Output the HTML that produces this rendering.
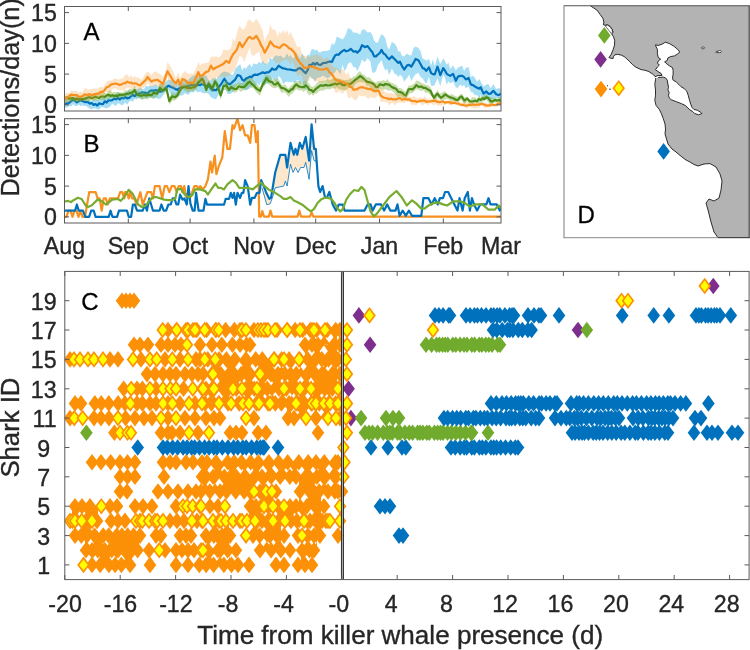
<!DOCTYPE html>
<html><head><meta charset="utf-8"><style>
html,body{margin:0;padding:0;background:#fff;}
body{width:750px;height:650px;overflow:hidden;}
svg{display:block;filter:blur(0.4px);}
text{font-family:"Liberation Sans", sans-serif;}
.tk{font-size:23.2px;fill:#262626;stroke:#262626;stroke-width:0.35px;}
.al{font-size:25.3px;fill:#262626;stroke:#262626;stroke-width:0.35px;}
.pl{font-size:24px;fill:#000;stroke:#000;stroke-width:0.3px;}
</style></head><body>
<svg width="750" height="650" viewBox="0 0 750 650">
<rect width="750" height="650" fill="#fff"/>
<clipPath id="cA"><rect x="64.5" y="6.5" width="436.5" height="104.5"/></clipPath>
<clipPath id="cB"><rect x="64.5" y="118.7" width="436.5" height="104.3"/></clipPath>
<clipPath id="cC"><rect x="64.8" y="271.4" width="684.3" height="308.2"/></clipPath>
<clipPath id="cD"><rect x="564" y="5.8" width="185.2" height="231.9"/></clipPath>
<g clip-path="url(#cA)">
<polygon points="64.7,97.9 66.9,98.5 69.0,96.5 71.2,97.4 73.1,96.8 75.0,98.2 76.8,97.5 78.7,96.6 80.5,97.5 82.4,97.1 84.2,98.3 86.1,97.1 88.0,98.3 89.8,100.5 91.7,101.1 93.6,99.4 95.5,98.5 97.3,100.6 99.2,99.6 101.1,98.0 102.9,97.9 104.8,97.7 106.7,98.7 108.5,94.4 110.4,95.0 112.2,95.4 114.1,95.3 116.0,94.2 117.9,91.7 119.8,94.0 121.6,93.6 123.5,94.3 125.3,92.3 127.2,92.3 129.1,89.8 130.9,91.5 132.8,90.5 134.7,92.3 136.5,88.7 138.4,88.7 140.3,87.2 142.2,89.2 144.0,89.0 145.9,85.9 147.8,86.4 149.6,85.7 151.5,86.2 153.3,85.5 155.5,84.4 157.8,86.7 160.0,83.7 162.8,85.7 165.6,82.0 168.4,79.4 171.2,80.6 173.1,78.9 174.9,82.9 177.7,83.6 179.6,81.4 182.4,81.9 185.2,80.1 188.0,80.3 190.8,77.2 193.6,75.5 195.4,75.2 197.3,74.6 200.1,77.3 202.0,77.1 203.9,75.3 206.7,76.0 208.6,80.7 210.4,80.6 212.3,78.3 214.2,78.8 216.0,79.5 218.8,76.2 221.6,72.7 224.4,71.6 227.2,71.9 230.0,73.6 232.9,75.2 235.2,69.0 237.6,66.2 240.4,64.2 242.2,70.8 244.1,67.3 246.0,68.8 247.9,66.1 249.8,63.8 251.6,67.5 253.5,63.3 255.4,64.3 257.2,64.3 259.1,61.6 261.0,63.5 262.8,60.4 264.7,63.5 266.5,64.0 268.4,62.2 270.2,57.8 272.1,59.4 274.0,56.9 275.9,55.3 278.7,56.2 281.0,55.5 283.3,58.3 285.2,57.1 287.0,53.3 288.9,56.9 290.8,55.1 292.6,58.6 294.5,57.2 296.4,52.5 298.3,56.1 300.1,58.6 302.0,53.2 303.9,56.0 305.7,59.7 307.6,54.8 309.5,55.2 311.4,49.5 313.2,48.9 315.0,50.4 316.9,49.4 318.8,52.3 320.7,52.3 323.1,51.1 325.6,51.1 327.8,50.5 329.9,49.9 332.1,42.4 333.1,45.0 335.0,43.1 336.8,36.4 338.6,37.4 340.5,38.2 342.4,39.4 344.3,37.5 346.1,33.7 348.0,28.1 350.8,29.2 353.6,32.7 355.5,32.4 357.3,33.0 360.1,34.8 362.0,29.7 364.8,29.6 367.6,32.5 370.4,31.9 372.2,34.8 374.1,40.5 376.0,42.8 377.9,42.5 379.8,37.4 381.6,34.3 383.5,35.6 385.3,38.3 387.2,46.2 389.1,49.7 391.9,41.7 394.7,43.7 396.5,46.3 398.4,51.7 400.0,50.9 402.1,56.3 404.2,56.2 407.1,53.4 409.2,55.2 411.3,55.5 413.5,47.9 415.6,46.4 418.4,48.1 420.5,51.1 422.6,58.5 424.4,59.0 426.2,60.8 429.0,58.9 431.1,65.7 432.9,59.3 434.7,66.4 437.5,56.6 440.3,64.1 443.2,58.5 444.9,60.8 446.7,64.7 448.4,62.4 450.2,68.9 453.1,65.4 455.9,70.4 458.0,67.4 460.1,66.6 462.3,65.8 464.1,70.9 465.8,68.0 468.6,67.0 470.8,77.2 472.9,75.4 475.0,78.0 477.1,81.8 479.2,78.9 480.7,81.4 483.5,86.6 486.3,84.4 488.5,83.9 490.6,88.5 493.4,83.9 496.2,89.2 498.7,87.9 501.2,89.0 501.2,101.0 498.7,98.1 496.2,98.5 493.4,98.0 490.6,100.7 488.5,99.5 486.3,99.6 483.5,101.0 480.7,94.7 479.2,98.0 477.1,95.0 475.0,95.5 472.9,92.6 470.8,91.8 468.6,86.5 465.8,88.3 464.1,84.7 462.3,86.3 460.1,84.4 458.0,87.8 455.9,87.6 453.1,81.6 450.2,83.4 448.4,81.3 446.7,84.8 444.9,77.8 443.2,74.5 440.3,86.3 437.5,78.2 434.7,84.9 432.9,86.0 431.1,85.8 429.0,76.9 426.2,83.9 424.4,81.3 422.6,78.2 420.5,77.0 418.4,72.7 415.6,74.2 413.5,77.1 411.3,81.0 409.2,74.6 407.1,78.0 404.2,81.7 402.1,76.6 400.0,74.7 398.4,77.1 396.5,74.4 394.7,73.9 391.9,68.6 389.1,75.1 387.2,68.7 385.3,70.6 383.5,66.6 381.6,59.9 379.8,62.4 377.9,65.1 376.0,71.0 374.1,72.7 372.2,72.4 370.4,61.5 367.6,58.0 364.8,62.2 362.0,59.5 360.1,65.0 357.3,71.2 355.5,67.1 353.6,67.4 350.8,62.1 348.0,63.8 346.1,68.9 344.3,70.4 342.4,64.4 340.5,74.6 338.6,71.5 336.8,69.1 335.0,72.7 333.1,73.5 332.1,75.1 329.9,76.4 327.8,78.6 325.6,77.3 323.1,75.4 320.7,76.9 318.8,77.6 316.9,78.3 315.0,81.6 313.2,78.8 311.4,78.6 309.5,75.7 307.6,81.6 305.7,90.9 303.9,86.9 302.0,81.4 300.1,84.3 298.3,79.7 296.4,80.8 294.5,83.0 292.6,81.5 290.8,82.4 288.9,81.9 287.0,81.4 285.2,82.0 283.3,84.4 281.0,78.5 278.7,75.9 275.9,83.0 274.0,78.6 272.1,78.7 270.2,82.7 268.4,83.3 266.5,83.5 264.7,84.9 262.8,85.6 261.0,81.8 259.1,85.8 257.2,82.8 255.4,88.1 253.5,84.5 251.6,86.5 249.8,88.5 247.9,89.2 246.0,90.3 244.1,90.2 242.2,88.1 240.4,85.6 237.6,84.0 235.2,87.5 232.9,92.2 230.0,94.1 227.2,93.8 224.4,85.9 221.6,95.5 218.8,94.0 216.0,99.4 214.2,98.8 212.3,97.9 210.4,96.6 208.6,94.0 206.7,92.6 203.9,93.5 202.0,92.5 200.1,91.4 197.3,92.5 195.4,89.9 193.6,92.4 190.8,92.0 188.0,94.9 185.2,93.0 182.4,95.4 179.6,95.4 177.7,97.0 174.9,96.3 173.1,95.8 171.2,95.3 168.4,89.7 165.6,91.6 162.8,95.7 160.0,98.9 157.8,98.8 155.5,97.2 153.3,99.2 151.5,96.5 149.6,98.1 147.8,97.7 145.9,99.1 144.0,97.4 142.2,99.7 140.3,97.7 138.4,98.3 136.5,99.6 134.7,98.4 132.8,102.0 130.9,100.6 129.1,101.4 127.2,104.8 125.3,102.5 123.5,104.5 121.6,105.3 119.8,104.0 117.9,102.9 116.0,106.1 114.1,105.0 112.2,103.6 110.4,106.3 108.5,107.6 106.7,108.3 104.8,108.0 102.9,106.9 101.1,107.3 99.2,109.4 97.3,109.3 95.5,108.4 93.6,108.3 91.7,109.4 89.8,108.5 88.0,107.6 86.1,105.7 84.2,105.9 82.4,105.2 80.5,106.0 78.7,104.6 76.8,105.9 75.0,106.1 73.1,104.1 71.2,106.4 69.0,106.0 66.9,107.5 64.7,107.7" fill="rgb(77,190,238)" fill-opacity="0.5"/>
<polyline points="64.7,104.0 66.9,103.4 69.0,103.0 71.2,101.2 73.1,99.9 75.0,100.6 76.8,102.4 78.7,101.2 80.5,100.3 82.4,101.0 84.2,101.8 86.1,102.1 88.0,102.2 89.8,103.6 91.7,103.0 93.6,104.9 95.5,104.0 97.3,105.6 99.2,103.3 101.1,104.0 102.9,104.1 104.8,101.3 106.7,102.5 108.5,100.3 110.4,100.5 112.2,100.2 114.1,98.6 116.0,99.3 117.9,97.9 119.8,99.5 121.6,97.8 123.5,98.4 125.3,97.1 127.2,98.3 129.1,97.9 130.9,96.5 132.8,94.6 134.7,96.3 136.5,94.5 138.4,93.7 140.3,93.2 142.2,92.2 144.0,92.7 145.9,92.8 147.8,93.6 149.6,91.3 151.5,90.4 153.3,90.9 155.5,90.2 157.8,90.5 160.0,91.7 162.8,90.8 165.6,88.0 168.4,85.7 171.2,87.1 173.1,87.6 174.9,88.9 177.7,89.9 179.6,88.0 182.4,87.1 185.2,86.6 188.0,86.1 190.8,85.2 193.6,84.7 195.4,85.8 197.3,84.7 200.1,85.2 202.0,83.9 203.9,84.7 206.7,86.1 208.6,86.2 210.4,88.0 212.3,90.1 214.2,89.9 216.0,90.3 218.8,87.1 221.6,83.3 224.4,78.7 227.2,83.3 230.0,84.3 232.9,81.6 235.2,79.6 237.6,75.1 240.4,76.0 242.2,79.6 244.1,80.7 246.0,78.6 247.9,77.9 249.8,76.6 251.6,77.2 253.5,75.1 255.4,74.7 257.2,75.0 259.1,74.1 261.0,73.3 262.8,72.3 264.7,73.2 266.5,72.3 268.4,72.3 270.2,71.0 272.1,68.5 274.0,69.7 275.9,69.5 278.7,65.7 281.0,67.3 283.3,68.5 285.2,68.7 287.0,69.3 288.9,69.5 290.8,69.6 292.6,70.2 294.5,70.4 296.4,70.3 298.3,68.5 300.1,68.2 302.0,69.5 303.9,71.6 305.7,73.2 307.6,70.1 309.5,64.8 311.4,65.2 313.2,63.0 315.0,64.6 316.9,62.9 318.8,64.7 320.7,64.8 323.1,63.0 325.6,62.9 327.8,62.0 329.9,61.5 332.1,62.0 333.1,59.2 335.0,55.7 336.8,54.5 338.6,54.8 340.5,52.7 342.4,51.1 344.3,49.9 346.1,51.3 348.0,50.8 350.8,48.9 353.6,51.7 355.5,51.2 357.3,52.7 360.1,49.9 362.0,45.2 364.8,47.1 367.6,46.1 370.4,49.9 372.2,51.9 374.1,56.4 376.0,56.4 377.9,54.5 379.8,53.0 381.6,49.9 383.5,53.5 385.3,54.5 387.2,57.3 389.1,59.2 391.9,56.4 394.7,59.2 396.5,61.1 398.4,62.9 400.0,61.7 402.1,66.3 404.2,69.5 407.1,65.3 409.2,64.9 411.3,66.7 413.5,62.9 415.6,58.9 418.4,60.3 420.5,64.0 422.6,68.1 424.4,68.6 426.2,70.9 429.0,67.4 431.1,73.1 432.9,74.1 434.7,74.5 437.5,66.7 440.3,75.2 443.2,68.1 444.9,70.5 446.7,73.8 448.4,74.9 450.2,75.9 453.1,73.8 455.9,80.8 458.0,76.6 460.1,75.9 462.3,75.9 464.1,77.2 465.8,79.4 468.6,78.0 470.8,84.4 472.9,85.1 475.0,86.5 477.1,87.8 479.2,88.6 480.7,87.2 483.5,93.6 486.3,91.5 488.5,93.8 490.6,93.6 493.4,90.8 496.2,94.3 498.7,95.1 501.2,93.6" fill="none" stroke="#0072BD" stroke-width="2.2" stroke-linejoin="round"/>
<polygon points="64.7,95.8 66.9,95.9 69.0,95.9 71.2,94.1 73.1,96.9 75.0,95.5 76.8,96.1 78.7,97.3 80.5,95.4 82.4,96.1 84.2,95.5 86.1,95.8 88.0,95.3 89.8,94.8 91.7,94.1 93.6,93.1 95.5,93.6 97.3,92.4 99.2,94.3 101.0,92.9 102.9,92.7 104.8,92.7 106.6,93.3 108.5,90.9 110.4,90.1 112.2,92.3 114.1,91.9 116.0,92.3 117.9,91.8 119.8,92.4 121.6,92.3 123.5,92.6 125.3,90.1 127.2,91.0 129.1,89.1 130.9,89.1 132.8,89.0 134.7,85.3 136.5,90.3 138.4,90.6 140.2,91.8 142.1,91.6 144.0,91.7 145.8,92.7 147.7,91.3 149.6,90.0 151.5,90.2 153.3,90.2 155.2,90.5 157.1,90.5 160.0,84.3 161.8,84.9 163.7,86.4 166.5,85.2 169.3,97.6 172.1,92.3 174.9,93.5 177.3,91.4 179.6,88.1 182.4,83.5 185.2,84.1 188.0,83.4 190.8,84.2 192.7,83.0 194.5,82.7 196.4,80.4 198.3,79.2 200.2,75.9 202.0,75.3 203.9,78.0 206.2,86.7 208.6,79.2 210.4,83.5 212.3,84.3 215.1,77.0 217.0,80.7 218.8,85.3 220.7,92.1 223.5,82.5 226.3,80.3 229.1,86.7 231.1,82.6 232.9,85.5 234.8,84.0 236.7,84.0 238.5,82.1 240.4,83.0 242.3,83.3 244.2,82.2 246.0,80.3 247.8,77.8 249.7,77.6 251.6,78.1 253.5,80.3 255.3,82.4 257.2,84.4 260.0,87.2 262.8,80.2 264.6,76.4 266.5,74.6 268.4,75.6 270.3,75.8 272.1,79.8 274.0,78.3 275.9,80.1 277.7,77.7 279.6,81.0 281.5,84.2 283.4,85.5 285.2,84.2 287.0,87.3 288.9,88.2 290.8,85.6 292.7,84.7 294.5,81.5 296.4,81.2 298.3,80.9 300.1,81.5 302.0,82.8 303.9,80.9 305.7,80.5 307.6,82.6 309.5,83.9 311.4,86.5 313.2,86.9 315.0,85.6 316.9,83.0 318.8,81.2 320.7,81.2 323.0,81.1 325.2,80.2 327.5,79.1 329.4,80.2 331.2,79.4 333.1,78.4 335.0,77.8 336.8,78.0 338.7,78.8 340.6,78.9 342.4,79.5 344.3,80.2 346.2,80.0 348.0,79.8 349.9,79.1 351.8,77.7 353.6,76.5 355.5,76.1 357.8,72.7 360.1,71.0 362.5,74.3 364.8,75.2 366.7,77.6 368.5,77.1 370.4,77.9 372.3,80.5 374.1,81.6 376.0,82.9 377.9,80.7 379.7,81.2 381.6,80.9 383.5,80.0 385.4,81.3 387.2,78.9 389.0,81.4 390.9,82.7 392.8,83.3 394.7,84.5 396.5,85.0 398.4,87.9 400.2,88.1 402.1,88.9 404.0,90.9 405.9,91.8 408.5,85.8 410.6,85.4 412.7,84.6 414.5,83.6 416.3,80.6 418.8,81.1 421.2,83.1 423.4,83.8 425.5,84.7 427.9,85.3 430.4,87.1 432.2,90.9 434.0,95.2 435.8,92.4 437.5,89.7 439.2,93.5 441.0,93.6 443.1,91.6 445.3,91.5 447.4,93.8 449.5,95.0 451.6,93.9 453.8,95.2 455.9,96.3 458.0,96.8 459.8,94.5 461.6,93.4 464.4,97.6 467.2,96.6 470.0,99.9 472.5,96.9 475.0,97.4 476.9,98.7 478.8,96.5 480.7,96.7 482.6,96.1 484.4,95.2 486.3,94.0 488.5,96.3 490.6,97.4 492.7,97.6 494.8,98.1 496.9,98.9 499.1,97.1 501.2,98.1 501.2,103.3 499.1,104.3 496.9,101.9 494.8,102.7 492.7,103.5 490.6,104.4 488.5,102.2 486.3,100.1 484.4,99.7 482.6,102.9 480.7,102.9 478.8,104.1 476.9,102.5 475.0,102.5 472.5,104.8 470.0,105.5 467.2,101.3 464.4,104.6 461.6,99.9 459.8,100.6 458.0,102.1 455.9,102.1 453.8,101.0 451.6,102.3 449.5,100.1 447.4,99.1 445.3,99.4 443.1,99.8 441.0,101.0 439.2,98.8 437.5,97.3 435.8,99.4 434.0,101.9 432.2,97.1 430.4,95.3 427.9,92.8 425.5,92.9 423.4,90.3 421.2,91.0 418.8,90.0 416.3,89.0 414.5,91.1 412.7,93.0 410.6,93.0 408.5,94.9 405.9,99.7 404.0,99.3 402.1,97.6 400.2,96.1 398.4,97.6 396.5,95.6 394.7,93.1 392.8,91.6 390.9,90.2 389.0,90.7 387.2,90.0 385.4,89.3 383.5,89.5 381.6,89.7 379.7,88.7 377.9,90.8 376.0,93.3 374.1,90.4 372.3,90.1 370.4,87.5 368.5,85.6 366.7,86.3 364.8,82.3 362.5,82.5 360.1,81.7 357.8,82.4 355.5,83.7 353.6,87.3 351.8,87.8 349.9,87.5 348.0,88.4 346.2,89.8 344.3,90.5 342.4,89.7 340.6,89.6 338.7,89.0 336.8,87.2 335.0,89.0 333.1,87.9 331.2,88.7 329.4,89.4 327.5,89.0 325.2,89.6 323.0,90.7 320.7,90.5 318.8,90.9 316.9,93.7 315.0,93.6 313.2,96.0 311.4,93.8 309.5,95.6 307.6,93.4 305.7,88.8 303.9,92.3 302.0,90.3 300.1,90.6 298.3,90.2 296.4,88.9 294.5,90.7 292.7,93.3 290.8,94.2 288.9,96.9 287.0,94.8 285.2,92.5 283.4,92.2 281.5,93.0 279.6,89.6 277.7,87.1 275.9,88.2 274.0,88.1 272.1,87.5 270.3,85.8 268.4,84.3 266.5,82.4 264.6,86.0 262.8,87.6 260.0,95.8 257.2,93.3 255.3,91.0 253.5,88.2 251.6,88.0 249.7,85.9 247.8,89.1 246.0,89.8 244.2,89.6 242.3,91.1 240.4,91.7 238.5,89.4 236.7,92.1 234.8,92.8 232.9,91.8 231.1,90.2 229.1,92.6 226.3,90.2 223.5,89.4 220.7,99.7 218.8,93.7 217.0,89.1 215.1,85.5 212.3,92.4 210.4,90.7 208.6,87.3 206.2,93.4 203.9,85.1 202.0,84.3 200.2,83.5 198.3,85.8 196.4,89.5 194.5,90.2 192.7,91.6 190.8,90.7 188.0,92.7 185.2,90.7 182.4,89.1 179.6,94.9 177.3,98.6 174.9,100.5 172.1,100.7 169.3,105.0 166.5,91.1 163.7,93.0 161.8,93.6 160.0,90.0 157.1,97.0 155.2,98.0 153.3,98.3 151.5,98.3 149.6,97.2 147.7,99.5 145.8,98.4 144.0,99.2 142.1,99.4 140.2,99.0 138.4,97.6 136.5,98.1 134.7,93.2 132.8,96.3 130.9,96.4 129.1,96.2 127.2,97.2 125.3,96.6 123.5,99.0 121.6,97.8 119.8,97.9 117.9,98.0 116.0,98.4 114.1,98.7 112.2,98.6 110.4,98.3 108.5,98.7 106.6,99.2 104.8,100.0 102.9,100.6 101.0,99.4 99.2,100.2 97.3,101.1 95.5,100.3 93.6,100.9 91.7,99.9 89.8,101.1 88.0,101.8 86.1,101.2 84.2,100.7 82.4,101.0 80.5,101.8 78.7,101.7 76.8,102.6 75.0,102.1 73.1,101.2 71.2,102.5 69.0,101.3 66.9,101.9 64.7,102.5" fill="#77AC30" fill-opacity="0.4"/>
<polyline points="64.7,98.4 66.9,97.6 69.0,98.5 71.2,98.4 73.1,98.0 75.0,99.4 76.8,98.7 78.7,99.3 80.5,99.2 82.4,99.0 84.2,98.9 86.1,98.4 88.0,97.4 89.8,97.4 91.7,98.1 93.6,97.5 95.5,96.7 97.3,97.5 99.2,97.9 101.0,96.5 102.9,96.5 104.8,96.9 106.6,95.6 108.5,94.7 110.4,95.9 112.2,95.2 114.1,95.9 116.0,95.6 117.9,95.8 119.8,94.5 121.6,95.0 123.5,94.7 125.3,94.4 127.2,93.7 129.1,93.6 130.9,92.8 132.8,92.3 134.7,90.0 136.5,93.7 138.4,95.0 140.2,95.7 142.1,95.6 144.0,94.6 145.8,95.6 147.7,95.2 149.6,94.7 151.5,95.4 153.3,93.1 155.2,93.2 157.1,93.7 160.0,88.0 161.8,90.0 163.7,89.9 166.5,88.9 169.3,101.1 172.1,96.4 174.9,97.3 177.3,95.5 179.6,90.8 182.4,87.1 185.2,87.1 188.0,88.0 190.8,88.0 192.7,87.3 194.5,87.1 196.4,85.2 198.3,82.4 200.2,80.8 202.0,78.7 203.9,81.5 206.2,89.9 208.6,83.3 210.4,85.9 212.3,88.9 215.1,81.5 217.0,84.3 218.8,89.8 220.7,95.5 223.5,86.1 226.3,85.2 229.1,89.9 231.1,87.2 232.9,88.3 234.8,89.1 236.7,88.8 238.5,86.3 240.4,86.8 242.3,87.2 244.2,86.9 246.0,85.3 247.8,83.0 249.7,81.6 251.6,83.9 253.5,85.3 255.3,87.4 257.2,89.1 260.0,90.9 262.8,84.4 264.6,81.7 266.5,77.9 268.4,80.6 270.3,81.6 272.1,82.1 274.0,84.4 275.9,84.5 277.7,82.5 279.6,85.5 281.5,88.1 283.4,88.1 285.2,89.1 287.0,90.4 288.9,91.9 290.8,89.6 292.7,89.1 294.5,86.2 296.4,84.4 298.3,86.1 300.1,86.7 302.0,87.2 303.9,87.1 305.7,85.3 307.6,86.9 309.5,90.0 311.4,90.1 313.2,91.9 315.0,89.7 316.9,88.1 318.8,86.7 320.7,85.3 323.0,85.8 325.2,84.9 327.5,85.3 329.4,85.5 331.2,84.9 333.1,84.4 335.0,83.6 336.8,84.4 338.7,83.5 340.6,83.2 342.4,84.9 344.3,85.3 346.2,84.3 348.0,83.7 349.9,84.4 351.8,82.8 353.6,81.3 355.5,79.7 357.8,78.1 360.1,76.0 362.5,77.6 364.8,79.7 366.7,81.6 368.5,82.2 370.4,82.5 372.3,83.3 374.1,84.5 376.0,87.2 377.9,86.8 379.7,84.4 381.6,84.7 383.5,85.3 385.4,84.0 387.2,84.4 389.0,84.6 390.9,86.3 392.8,87.6 394.7,88.1 396.5,89.3 398.4,91.9 400.2,92.1 402.1,92.8 404.0,94.6 405.9,95.6 408.5,89.3 410.6,89.0 412.7,89.3 414.5,87.5 416.3,85.1 418.8,86.8 421.2,86.5 423.4,87.8 425.5,87.9 427.9,89.6 430.4,90.8 432.2,94.6 434.0,97.8 435.8,95.3 437.5,93.6 439.2,96.0 441.0,97.8 443.1,96.4 445.3,94.3 447.4,95.9 449.5,97.1 451.6,97.8 453.8,98.5 455.9,99.8 458.0,99.9 459.8,97.5 461.6,96.4 464.4,100.7 467.2,98.5 470.0,101.4 472.5,101.5 475.0,100.7 476.9,101.5 478.8,99.1 480.7,99.9 482.6,98.4 484.4,99.1 486.3,97.1 488.5,98.3 490.6,101.4 492.7,101.3 494.8,99.9 496.9,100.6 499.1,100.0 501.2,101.4" fill="none" stroke="#4C8C1A" stroke-width="2.2" stroke-linejoin="round"/>
<polygon points="64.7,93.7 66.9,92.7 69.0,93.2 71.2,90.8 73.1,90.8 75.0,91.1 76.8,91.1 78.7,92.4 80.5,91.2 82.4,92.4 84.2,89.2 86.1,87.4 88.0,90.1 89.8,89.3 91.7,89.1 93.6,88.6 95.5,88.5 97.3,88.7 99.2,87.5 101.0,86.3 102.9,87.9 104.8,84.7 106.7,81.6 108.6,80.7 110.4,80.6 112.3,80.6 114.1,78.4 116.0,78.4 117.9,79.5 119.7,79.3 121.6,78.6 123.5,77.8 125.3,75.0 127.2,74.3 129.1,77.2 130.9,75.0 132.8,78.0 134.7,76.1 136.5,77.5 138.4,77.6 140.3,79.3 142.2,79.6 144.0,75.8 145.9,72.8 147.7,71.4 149.6,73.1 151.5,75.1 153.4,72.6 155.2,71.3 157.1,72.6 160.0,73.9 162.8,76.4 165.2,73.0 167.5,62.0 170.3,66.0 173.1,71.5 175.9,78.1 178.2,72.2 180.1,77.9 182.4,73.6 185.2,71.0 188.0,73.9 190.8,73.5 193.1,73.9 195.9,69.0 198.3,61.7 200.1,65.2 203.0,63.2 205.8,63.3 208.6,62.2 210.9,56.7 213.2,56.8 216.0,56.3 217.9,57.3 219.8,57.1 221.7,54.4 223.5,49.6 226.3,49.9 229.1,49.6 231.0,48.2 232.9,38.4 234.8,41.1 236.7,33.9 239.5,25.2 242.3,29.4 244.2,29.0 246.0,26.5 247.8,20.1 249.7,19.5 251.6,21.6 253.5,22.9 256.3,18.5 259.1,22.9 261.0,26.8 262.8,31.1 264.7,42.1 266.5,35.9 268.4,33.8 270.3,24.2 272.1,29.6 274.0,29.2 275.9,31.3 277.7,36.4 279.6,31.6 281.5,33.7 283.3,29.5 285.2,33.4 287.1,30.0 289.0,35.7 290.8,31.6 292.6,36.5 294.5,40.6 297.3,47.2 300.1,46.6 302.0,54.4 303.9,56.3 305.8,55.8 307.6,56.0 309.5,56.9 311.3,55.8 313.2,55.1 315.1,55.2 317.0,53.7 318.8,55.7 320.7,56.0 323.7,58.7 325.6,58.7 327.5,56.7 329.3,61.2 331.2,64.4 333.1,66.8 335.0,67.6 336.8,67.8 338.6,69.5 340.5,70.6 342.4,68.9 344.3,70.3 346.1,75.6 348.0,72.2 349.9,76.5 351.7,79.2 353.6,81.1 355.5,81.8 357.3,78.2 359.2,77.8 361.1,78.5 363.0,80.5 364.8,77.9 366.6,80.7 368.5,83.4 370.4,79.7 372.3,84.0 374.1,84.1 376.0,84.7 378.8,85.2 380.7,88.9 383.5,89.5 385.4,93.1 387.2,92.6 389.1,93.6 390.9,92.7 392.8,94.0 394.7,92.9 396.5,94.1 398.4,94.2 400.3,94.3 402.1,94.2 404.0,94.6 405.9,93.7 407.7,97.2 409.6,96.6 411.5,97.7 413.3,95.9 415.2,97.0 417.0,98.6 418.9,97.8 420.8,97.0 422.6,98.9 424.5,96.0 426.4,97.8 428.3,100.1 430.1,97.4 432.0,99.4 433.9,98.3 435.8,97.6 437.6,97.7 439.5,100.6 441.4,100.5 443.2,100.4 445.0,101.4 446.9,101.0 449.2,100.2 451.5,101.8 453.8,99.3 456.1,101.2 458.5,101.1 460.8,102.7 462.8,102.0 464.8,101.2 466.8,102.1 468.8,103.1 470.8,101.8 472.8,102.7 474.8,101.6 476.8,103.3 478.9,102.6 480.9,103.3 482.9,103.5 484.9,102.0 487.2,103.7 489.4,102.4 491.7,103.3 493.9,104.6 496.2,102.2 498.7,101.9 501.2,100.0 501.2,105.4 498.7,104.8 496.2,106.9 493.9,106.1 491.7,106.7 489.4,107.6 487.2,106.8 484.9,108.8 482.9,105.9 480.9,106.3 478.9,107.8 476.8,108.1 474.8,108.7 472.8,107.9 470.8,107.3 468.8,106.0 466.8,108.9 464.8,107.1 462.8,106.5 460.8,106.5 458.5,105.8 456.1,104.7 453.8,104.1 451.5,105.2 449.2,105.0 446.9,103.5 445.0,105.2 443.2,104.8 441.4,105.4 439.5,105.7 437.6,105.5 435.8,104.0 433.9,105.3 432.0,104.1 430.1,103.0 428.3,105.4 426.4,103.9 424.5,103.8 422.6,105.6 420.8,104.3 418.9,102.1 417.0,104.7 415.2,105.2 413.3,104.5 411.5,105.3 409.6,101.8 407.7,102.1 405.9,102.0 404.0,103.2 402.1,102.2 400.3,102.5 398.4,102.5 396.5,103.4 394.7,105.4 392.8,102.4 390.9,103.4 389.1,105.4 387.2,102.1 385.4,102.6 383.5,101.8 380.7,102.3 378.8,94.7 376.0,97.5 374.1,98.3 372.3,97.4 370.4,97.1 368.5,98.9 366.6,97.4 364.8,95.7 363.0,96.2 361.1,96.2 359.2,95.2 357.3,99.1 355.5,100.3 353.6,99.4 351.7,96.3 349.9,98.2 348.0,97.4 346.1,90.6 344.3,91.3 342.4,93.9 340.5,91.8 338.6,91.0 336.8,93.3 335.0,92.1 333.1,85.3 331.2,83.2 329.3,83.5 327.5,83.5 325.6,78.5 323.7,82.0 320.7,82.4 318.8,81.4 317.0,81.3 315.1,81.4 313.2,79.6 311.3,76.3 309.5,80.4 307.6,81.8 305.8,81.7 303.9,83.9 302.0,76.2 300.1,74.0 297.3,76.6 294.5,66.2 292.6,60.5 290.8,65.3 289.0,60.8 287.1,60.1 285.2,60.0 283.3,61.1 281.5,60.6 279.6,64.2 277.7,62.6 275.9,63.2 274.0,60.6 272.1,56.7 270.3,58.2 268.4,59.4 266.5,63.8 264.7,64.9 262.8,62.5 261.0,59.9 259.1,51.7 256.3,53.4 253.5,55.9 251.6,55.2 249.7,47.6 247.8,52.2 246.0,56.9 244.2,62.2 242.3,56.9 239.5,55.9 236.7,64.7 234.8,69.7 232.9,71.9 231.0,73.2 229.1,75.8 226.3,77.0 223.5,76.4 221.7,76.4 219.8,76.2 217.9,78.0 216.0,77.1 213.2,82.3 210.9,78.6 208.6,83.6 205.8,83.9 203.0,85.4 200.1,81.9 198.3,81.2 195.9,87.9 193.1,90.0 190.8,89.2 188.0,91.8 185.2,88.0 182.4,86.7 180.1,94.7 178.2,85.1 175.9,88.3 173.1,89.2 170.3,85.9 167.5,76.6 165.2,87.1 162.8,89.0 160.0,86.9 157.1,86.4 155.2,86.3 153.4,85.4 151.5,87.6 149.6,85.2 147.7,82.7 145.9,85.9 144.0,87.2 142.2,89.2 140.3,90.5 138.4,90.8 136.5,88.7 134.7,87.7 132.8,89.1 130.9,89.3 129.1,87.8 127.2,87.8 125.3,88.9 123.5,91.2 121.6,90.2 119.7,90.6 117.9,89.7 116.0,88.4 114.1,88.5 112.3,89.6 110.4,91.5 108.6,92.6 106.7,91.4 104.8,93.4 102.9,99.8 101.0,96.1 99.2,97.9 97.3,98.1 95.5,98.0 93.6,101.0 91.7,99.1 89.8,100.1 88.0,98.7 86.1,98.8 84.2,101.6 82.4,99.0 80.5,101.8 78.7,101.0 76.8,100.4 75.0,101.5 73.1,99.3 71.2,99.3 69.0,101.9 66.9,102.3 64.7,104.3" fill="#F7941D" fill-opacity="0.25"/>
<polyline points="64.7,98.4 66.9,97.9 69.0,96.0 71.2,94.7 73.1,94.9 75.0,95.0 76.8,95.2 78.7,96.5 80.5,96.8 82.4,96.2 84.2,94.6 86.1,94.7 88.0,95.0 89.8,94.1 91.7,95.1 93.6,94.7 95.5,93.9 97.3,93.9 99.2,93.1 101.0,91.7 102.9,91.9 104.8,89.7 106.7,87.2 108.6,86.7 110.4,84.9 112.3,84.1 114.1,83.8 116.0,83.5 117.9,84.2 119.7,85.0 121.6,84.4 123.5,83.4 125.3,83.2 127.2,81.6 129.1,82.6 130.9,82.5 132.8,83.5 134.7,83.4 136.5,83.5 138.4,85.0 140.3,85.3 142.2,83.4 144.0,81.6 145.9,79.7 147.7,76.9 149.6,79.6 151.5,81.6 153.4,80.3 155.2,80.3 157.1,79.7 160.0,81.5 162.8,84.3 165.2,77.8 167.5,71.2 170.3,75.9 173.1,80.5 175.9,83.3 178.2,79.6 180.1,85.2 182.4,79.1 185.2,80.1 188.0,83.3 190.8,82.4 193.1,83.3 195.9,77.7 198.3,72.1 200.1,76.3 203.0,74.9 205.8,72.1 208.6,71.2 210.9,65.6 213.2,69.3 216.0,67.5 217.9,66.7 219.8,65.6 221.7,65.0 223.5,63.7 226.3,60.9 229.1,62.8 231.0,58.2 232.9,54.5 234.8,52.2 236.7,49.9 239.5,42.4 242.3,47.1 244.2,44.2 246.0,41.5 247.8,38.4 249.7,36.8 251.6,38.3 253.5,38.7 256.3,35.9 259.1,40.5 261.0,45.1 262.8,48.0 264.7,52.7 266.5,49.5 268.4,46.1 270.3,41.5 272.1,43.6 274.0,46.1 275.9,46.5 277.7,47.3 279.6,48.0 281.5,45.9 283.3,44.3 285.2,44.8 287.1,46.1 289.0,48.3 290.8,48.9 292.6,50.6 294.5,52.7 297.3,59.2 300.1,62.9 302.0,64.7 303.9,67.6 305.8,67.9 307.6,67.6 309.5,66.3 311.3,66.7 313.2,66.9 315.1,67.6 317.0,68.3 318.8,69.4 320.7,69.5 323.7,69.5 325.6,68.6 327.5,68.5 329.3,72.3 331.2,73.3 333.1,76.0 335.0,79.2 336.8,80.7 338.6,80.3 340.5,81.6 342.4,81.9 344.3,82.5 346.1,83.5 348.0,84.4 349.9,86.7 351.7,87.2 353.6,90.0 355.5,89.3 357.3,89.1 359.2,87.7 361.1,87.2 363.0,87.3 364.8,88.1 366.6,88.4 368.5,89.1 370.4,88.9 372.3,90.0 374.1,91.2 376.0,90.9 378.8,90.9 380.7,95.6 383.5,97.5 385.4,98.0 387.2,98.4 389.1,99.1 390.9,98.6 392.8,99.3 394.7,99.3 396.5,99.4 398.4,98.4 400.3,98.2 402.1,99.8 404.0,99.3 405.9,98.9 407.7,99.7 409.6,99.3 411.5,101.0 413.3,101.2 415.2,101.1 417.0,102.0 418.9,101.2 420.8,100.8 422.6,100.7 424.5,100.6 426.4,101.8 428.3,101.4 430.1,101.5 432.0,101.2 433.9,100.6 435.8,101.0 437.6,101.9 439.5,102.1 441.4,101.8 443.2,101.3 445.0,102.7 446.9,102.1 449.2,102.0 451.5,103.3 453.8,102.8 456.1,103.3 458.5,103.6 460.8,104.9 462.8,104.8 464.8,105.5 466.8,105.6 468.8,105.0 470.8,104.9 472.8,104.5 474.8,104.9 476.8,104.5 478.9,104.7 480.9,104.0 482.9,104.0 484.9,104.9 487.2,105.7 489.4,105.4 491.7,104.4 493.9,105.1 496.2,104.9 498.7,103.4 501.2,103.5" fill="none" stroke="#F7901E" stroke-width="2.2" stroke-linejoin="round"/>
</g>
<g clip-path="url(#cB)">
<polygon points="263.8,186.1 266.3,192.8 269.3,198.8 271.0,197.9 273.5,182.7 275.2,172.5 280.3,154.8 285.4,154.8 287.1,167.5 290.5,142.9 292.1,148.8 293.8,154.8 295.5,148.8 297.2,154.8 299.8,142.9 302.3,148.8 305.7,137.0 309.1,160.7 311.6,124.3 314.1,148.8 315.8,148.8 317.0,165.0 315.8,160.7 314.1,160.7 311.6,150.5 309.1,179.3 305.7,162.4 304.0,167.5 300.6,167.5 298.1,172.5 295.5,167.5 293.0,172.5 290.5,164.1 287.1,186.1 285.4,181.0 283.7,186.1 275.2,187.8 273.5,194.5 270.2,203.8 266.8,204.7 262.0,187.8" fill="#F7941D" fill-opacity="0.22"/>
<polyline points="262.0,187.8 266.8,204.7 270.2,203.8 273.5,194.5 275.2,187.8 283.7,186.1 285.4,181.0 287.1,186.1 290.5,164.1 293.0,172.5 295.5,167.5 298.1,172.5 300.6,167.5 304.0,167.5 305.7,162.4 309.1,179.3 311.6,150.5 314.1,160.7 315.8,160.7 317.0,165.0" fill="none" stroke="#0072BD" stroke-width="0.8"/>
<polyline points="64.8,216.8 66.5,216.8 68.5,210.7 70.5,210.7 72.5,216.8 74.5,210.7 76.5,210.7 78.5,216.8 80.5,210.7 82.5,216.8 85.0,216.8 87.1,204.5 89.2,192.2 93.5,192.2 95.6,192.2 97.6,198.4 99.6,198.4 101.7,210.7 103.7,198.4 105.8,198.4 107.8,204.5 109.9,198.4 114.0,198.4 116.0,198.4 118.0,198.4 120.2,192.2 122.2,192.2 124.3,198.4 125.0,192.2 127.0,192.2 128.7,198.4 130.1,192.2 132.0,198.4 134.3,198.4 136.5,204.5 138.4,198.4 140.4,192.2 142.7,204.5 145.1,198.4 147.4,192.2 151.1,192.2 153.0,198.4 154.9,186.1 159.5,186.1 162.3,198.4 164.7,186.1 167.0,186.1 169.4,192.2 171.7,186.1 174.5,186.1 176.8,192.2 178.7,186.1 181.0,186.1 182.4,192.2 184.3,186.1 186.2,197.2 188.5,192.2 190.4,197.2 192.2,192.2 194.4,186.1 196.9,186.1 198.6,189.2 200.3,186.1 202.8,189.2 205.4,186.1 207.9,179.3 210.5,161.5 212.1,172.5 214.7,155.6 216.4,174.2 218.9,165.8 222.3,157.3 224.8,131.1 227.4,148.8 229.9,148.8 232.5,125.2 234.1,128.5 237.5,118.4 240.1,130.2 242.6,125.2 245.1,135.3 247.7,135.3 250.2,142.9 251.9,125.2 254.5,125.2 256.1,142.1 257.8,131.1 259.2,216.6 260.9,216.6 262.3,211.0 264.0,216.6 268.8,216.6 270.5,210.6 272.2,216.6 297.6,216.6 299.3,210.6 301.0,216.6 309.9,216.6 311.6,212.3 313.3,216.6 501.2,216.6" fill="none" stroke="#F7901E" stroke-width="2.2" stroke-linejoin="round"/>
<polyline points="64.8,210.7 73.0,210.7 75.0,210.7 76.9,204.5 78.8,210.7 83.0,210.7 85.3,216.8 89.1,216.8 91.2,210.7 93.7,210.7 95.6,216.8 108.7,216.8 110.6,210.7 112.4,216.8 117.1,216.8 119.0,210.7 127.0,210.7 128.7,216.8 131.1,216.8 132.9,204.5 134.8,204.5 137.1,210.7 142.7,210.7 145.1,204.5 146.9,210.7 149.3,198.4 151.1,204.5 153.0,210.7 159.5,210.7 161.4,204.5 163.7,210.7 166.1,210.7 168.4,204.5 170.8,204.5 172.6,198.4 174.5,198.4 176.4,204.5 178.2,204.5 180.1,194.7 182.5,199.6 184.3,198.4 186.8,204.5 188.5,186.1 190.4,203.3 192.7,210.7 194.6,210.7 196.1,192.8 198.6,210.6 203.5,210.6 205.4,198.8 207.1,204.7 224.0,204.7 225.7,198.8 229.1,198.8 230.8,192.8 232.5,197.9 234.1,192.8 235.8,204.7 237.5,192.8 240.1,197.9 241.8,192.8 243.4,192.8 245.1,180.1 247.7,186.1 250.2,204.7 251.9,197.9 254.5,197.9 257.0,192.8 259.5,192.8 261.2,180.1 263.8,186.1 266.3,192.8 269.3,198.8 271.0,197.9 273.5,182.7 275.2,172.5 280.3,154.8 285.4,154.8 287.1,167.5 290.5,142.9 292.1,148.8 293.8,154.8 295.5,148.8 297.2,154.8 299.8,142.9 302.3,148.8 305.7,137.0 309.1,160.7 311.6,124.3 314.1,148.8 315.8,148.8 318.4,186.1 320.1,192.0 322.6,186.1 325.1,197.9 326.8,197.9 329.4,192.0 332.8,204.7 336.1,210.6 338.7,204.7 342.9,204.7 344.6,210.6 364.5,210.6 367.6,204.4 370.6,204.4 372.7,210.6 375.8,204.4 381.0,204.4 384.1,210.6 387.2,204.4 390.3,210.6 395.5,210.6 397.5,204.4 399.6,215.8 402.7,210.6 405.8,215.8 408.9,210.6 412.0,215.8 416.1,215.8 421.3,215.8 423.4,198.2 428.5,198.2 431.6,204.4 434.7,198.2 437.8,204.4 439.9,198.2 443.0,198.2 445.1,192.0 448.2,192.0 451.3,198.2 454.4,204.4 457.5,210.6 459.5,198.2 462.6,210.6 464.7,198.2 467.8,192.0 469.9,210.6 471.9,198.2 474.0,204.4 477.1,210.6 480.2,204.4 486.4,204.4 488.5,198.2 490.5,204.4 496.7,204.4 499.8,210.6 501.2,207.5" fill="none" stroke="#0072BD" stroke-width="2.2" stroke-linejoin="round"/>
<polyline points="64.8,201.5 68.0,200.9 71.0,202.1 73.5,200.2 77.9,197.8 81.6,199.0 86.0,205.8 88.0,207.0 91.9,205.2 97.5,199.6 101.2,200.9 105.9,204.5 112.4,199.6 118.0,199.0 120.8,200.9 125.0,195.9 128.7,189.8 132.5,193.5 135.3,199.0 138.1,204.5 141.8,207.0 145.5,205.8 149.3,200.9 153.0,197.2 156.7,197.2 160.5,198.4 164.2,199.6 168.0,200.2 171.7,200.2 175.4,198.4 177.3,189.2 181.0,189.2 184.8,194.7 188.5,197.2 192.2,195.3 195.2,189.4 200.3,189.4 205.4,191.1 207.9,194.5 211.3,189.4 215.5,183.5 218.1,187.8 220.6,187.8 224.0,189.4 227.4,184.4 232.5,180.1 235.8,182.7 239.2,187.8 242.6,187.8 247.7,187.8 252.8,189.4 257.8,185.2 261.2,182.7 263.4,185.2 268.5,189.4 275.2,192.8 280.3,196.2 283.7,198.8 287.1,198.8 290.5,197.1 293.8,200.5 297.2,202.1 302.3,204.7 307.4,208.9 310.8,211.4 314.1,208.9 317.5,203.0 320.9,199.6 324.3,197.9 327.7,197.9 331.1,198.8 334.5,203.0 337.8,208.9 340.4,211.4 342.9,208.9 346.3,199.6 349.7,194.5 354.1,190.0 358.3,191.0 361.4,186.9 364.5,190.0 367.6,201.3 370.7,211.7 373.8,216.3 376.9,213.7 383.1,205.5 389.3,197.2 396.5,191.0 401.7,197.2 406.8,205.5 412.0,200.3 416.1,203.4 421.3,208.6 424.4,208.6 428.5,205.5 432.7,203.4 437.8,202.4 443.0,204.4 447.1,205.5 453.3,201.3 459.5,201.3 463.7,202.4 469.9,206.5 476.1,204.4 482.3,204.4 488.5,209.6 494.7,209.6 498.8,205.5 501.2,208.6" fill="none" stroke="#77AC30" stroke-width="2.2" stroke-linejoin="round"/>
</g>
<rect x="64.5" y="6.5" width="436.5" height="104.5" fill="none" stroke="#5a5a5a" stroke-width="1"/>
<line x1="128.3" y1="6.5" x2="128.3" y2="11.0" stroke="#5a5a5a"/>
<line x1="128.3" y1="111.0" x2="128.3" y2="106.5" stroke="#5a5a5a"/>
<line x1="190.1" y1="6.5" x2="190.1" y2="11.0" stroke="#5a5a5a"/>
<line x1="190.1" y1="111.0" x2="190.1" y2="106.5" stroke="#5a5a5a"/>
<line x1="253.9" y1="6.5" x2="253.9" y2="11.0" stroke="#5a5a5a"/>
<line x1="253.9" y1="111.0" x2="253.9" y2="106.5" stroke="#5a5a5a"/>
<line x1="315.7" y1="6.5" x2="315.7" y2="11.0" stroke="#5a5a5a"/>
<line x1="315.7" y1="111.0" x2="315.7" y2="106.5" stroke="#5a5a5a"/>
<line x1="379.5" y1="6.5" x2="379.5" y2="11.0" stroke="#5a5a5a"/>
<line x1="379.5" y1="111.0" x2="379.5" y2="106.5" stroke="#5a5a5a"/>
<line x1="443.3" y1="6.5" x2="443.3" y2="11.0" stroke="#5a5a5a"/>
<line x1="443.3" y1="111.0" x2="443.3" y2="106.5" stroke="#5a5a5a"/>
<line x1="64.5" y1="104.85" x2="69" y2="104.85" stroke="#5a5a5a"/>
<line x1="501" y1="104.85" x2="496.5" y2="104.85" stroke="#5a5a5a"/>
<text x="56.8" y="113.2" text-anchor="end" class="tk">0</text>
<line x1="64.5" y1="74.1" x2="69" y2="74.1" stroke="#5a5a5a"/>
<line x1="501" y1="74.1" x2="496.5" y2="74.1" stroke="#5a5a5a"/>
<text x="56.8" y="82.5" text-anchor="end" class="tk">5</text>
<line x1="64.5" y1="43.35" x2="69" y2="43.35" stroke="#5a5a5a"/>
<line x1="501" y1="43.35" x2="496.5" y2="43.35" stroke="#5a5a5a"/>
<text x="56.8" y="51.8" text-anchor="end" class="tk">10</text>
<line x1="64.5" y1="12.6" x2="69" y2="12.6" stroke="#5a5a5a"/>
<line x1="501" y1="12.6" x2="496.5" y2="12.6" stroke="#5a5a5a"/>
<text x="56.8" y="21.0" text-anchor="end" class="tk">15</text>
<rect x="64.5" y="118.7" width="436.5" height="104.3" fill="none" stroke="#5a5a5a" stroke-width="1"/>
<line x1="128.3" y1="118.7" x2="128.3" y2="123.2" stroke="#5a5a5a"/>
<line x1="128.3" y1="223.0" x2="128.3" y2="218.5" stroke="#5a5a5a"/>
<line x1="190.1" y1="118.7" x2="190.1" y2="123.2" stroke="#5a5a5a"/>
<line x1="190.1" y1="223.0" x2="190.1" y2="218.5" stroke="#5a5a5a"/>
<line x1="253.9" y1="118.7" x2="253.9" y2="123.2" stroke="#5a5a5a"/>
<line x1="253.9" y1="223.0" x2="253.9" y2="218.5" stroke="#5a5a5a"/>
<line x1="315.7" y1="118.7" x2="315.7" y2="123.2" stroke="#5a5a5a"/>
<line x1="315.7" y1="223.0" x2="315.7" y2="218.5" stroke="#5a5a5a"/>
<line x1="379.5" y1="118.7" x2="379.5" y2="123.2" stroke="#5a5a5a"/>
<line x1="379.5" y1="223.0" x2="379.5" y2="218.5" stroke="#5a5a5a"/>
<line x1="443.3" y1="118.7" x2="443.3" y2="123.2" stroke="#5a5a5a"/>
<line x1="443.3" y1="223.0" x2="443.3" y2="218.5" stroke="#5a5a5a"/>
<line x1="64.5" y1="216.85" x2="69" y2="216.85" stroke="#5a5a5a"/>
<line x1="501" y1="216.85" x2="496.5" y2="216.85" stroke="#5a5a5a"/>
<text x="56.8" y="225.2" text-anchor="end" class="tk">0</text>
<line x1="64.5" y1="186.1" x2="69" y2="186.1" stroke="#5a5a5a"/>
<line x1="501" y1="186.1" x2="496.5" y2="186.1" stroke="#5a5a5a"/>
<text x="56.8" y="194.5" text-anchor="end" class="tk">5</text>
<line x1="64.5" y1="155.35" x2="69" y2="155.35" stroke="#5a5a5a"/>
<line x1="501" y1="155.35" x2="496.5" y2="155.35" stroke="#5a5a5a"/>
<text x="56.8" y="163.8" text-anchor="end" class="tk">10</text>
<line x1="64.5" y1="124.6" x2="69" y2="124.6" stroke="#5a5a5a"/>
<line x1="501" y1="124.6" x2="496.5" y2="124.6" stroke="#5a5a5a"/>
<text x="56.8" y="133.0" text-anchor="end" class="tk">15</text>
<text x="64.5" y="254" text-anchor="middle" class="tk">Aug</text>
<text x="128.3" y="254" text-anchor="middle" class="tk">Sep</text>
<text x="190.1" y="254" text-anchor="middle" class="tk">Oct</text>
<text x="253.9" y="254" text-anchor="middle" class="tk">Nov</text>
<text x="315.7" y="254" text-anchor="middle" class="tk">Dec</text>
<text x="379.5" y="254" text-anchor="middle" class="tk">Jan</text>
<text x="443.3" y="254" text-anchor="middle" class="tk">Feb</text>
<text x="501.0" y="254" text-anchor="middle" class="tk">Mar</text>
<text x="83.4" y="39.9" class="pl">A</text>
<text x="83.4" y="151.8" class="pl">B</text>
<text transform="translate(19.4,196.4) rotate(-90)" class="al">Detections/day(n)</text>
<g clip-path="url(#cC)">
<rect x="91.0" y="550.2" width="41.0" height="14.7" fill="#FC9006"/>
<path d="M92.8 558.5L97.0 552.9L101.2 558.5L97.0 564.1Z" fill="#fff"/>
<path d="M108.3 558.8L112.5 553.2L116.7 558.8L112.5 564.4Z" fill="#fff"/>
<path d="M116.6 558.9L120.8 553.3L125.0 558.9L120.8 564.5Z" fill="#fff"/>
<rect x="207.0" y="550.2" width="30.0" height="14.7" fill="#FC9006"/>
<path d="M211.0 557.5L215.2 551.9L219.4 557.5L215.2 563.1Z" fill="#fff"/>
<path d="M221.0 557.8L225.2 552.2L229.4 557.8L225.2 563.4Z" fill="#fff"/>
<path d="M229.1 556.9L233.3 551.3L237.5 556.9L233.3 562.5Z" fill="#fff"/>
<rect x="301.0" y="550.2" width="12.0" height="14.7" fill="#FC9006"/>
<path d="M303.9 558.5L308.1 552.9L312.3 558.5L308.1 564.1Z" fill="#fff"/>
<rect x="85.0" y="535.6" width="54.0" height="14.7" fill="#FC9006"/>
<path d="M86.7 541.4L90.9 535.8L95.1 541.4L90.9 547.0Z" fill="#fff"/>
<path d="M101.7 542.0L105.9 536.4L110.1 542.0L105.9 547.6Z" fill="#fff"/>
<rect x="207.0" y="535.6" width="22.0" height="14.7" fill="#FC9006"/>
<path d="M209.2 544.2L213.4 538.6L217.6 544.2L213.4 549.8Z" fill="#fff"/>
<rect x="259.0" y="535.6" width="22.0" height="14.7" fill="#FC9006"/>
<path d="M258.2 541.9L262.4 536.3L266.6 541.9L262.4 547.5Z" fill="#fff"/>
<path d="M267.4 542.3L271.6 536.7L275.8 542.3L271.6 547.9Z" fill="#fff"/>
<rect x="301.0" y="535.6" width="16.0" height="14.7" fill="#FC9006"/>
<path d="M297.8 542.4L302.0 536.8L306.2 542.4L302.0 548.0Z" fill="#fff"/>
<path d="M308.3 542.8L312.5 537.2L316.7 542.8L312.5 548.4Z" fill="#fff"/>
<rect x="74.0" y="520.9" width="24.0" height="14.7" fill="#FC9006"/>
<path d="M74.6 526.9L78.8 521.3L83.0 526.9L78.8 532.5Z" fill="#fff"/>
<path d="M90.5 529.0L94.7 523.4L98.9 529.0L94.7 534.6Z" fill="#fff"/>
<rect x="207.0" y="520.9" width="22.0" height="14.7" fill="#FC9006"/>
<path d="M203.9 527.8L208.1 522.2L212.3 527.8L208.1 533.4Z" fill="#fff"/>
<path d="M216.6 526.9L220.8 521.3L225.0 526.9L220.8 532.5Z" fill="#fff"/>
<rect x="253.0" y="520.9" width="28.0" height="14.7" fill="#FC9006"/>
<path d="M257.4 529.0L261.6 523.4L265.8 529.0L261.6 534.6Z" fill="#fff"/>
<rect x="299.0" y="520.9" width="22.0" height="14.7" fill="#FC9006"/>
<path d="M298.6 529.0L302.8 523.4L307.0 529.0L302.8 534.6Z" fill="#fff"/>
<path d="M307.5 529.1L311.7 523.5L315.9 529.1L311.7 534.7Z" fill="#fff"/>
<rect x="72.0" y="506.2" width="26.0" height="14.7" fill="#FC9006"/>
<path d="M77.8 513.9L82.0 508.3L86.2 513.9L82.0 519.5Z" fill="#fff"/>
<rect x="249.0" y="506.2" width="72.0" height="14.7" fill="#FC9006"/>
<path d="M260.9 513.0L265.1 507.4L269.3 513.0L265.1 518.6Z" fill="#fff"/>
<path d="M270.3 512.5L274.5 506.9L278.7 512.5L274.5 518.1Z" fill="#fff"/>
<path d="M293.1 515.0L297.3 509.4L301.5 515.0L297.3 520.6Z" fill="#fff"/>
<path d="M305.4 512.8L309.6 507.2L313.8 512.8L309.6 518.4Z" fill="#fff"/>
<rect x="249.0" y="491.5" width="24.0" height="14.7" fill="#FC9006"/>
<path d="M252.4 498.6L256.6 493.0L260.8 498.6L256.6 504.2Z" fill="#fff"/>
<rect x="299.0" y="491.5" width="22.0" height="14.7" fill="#FC9006"/>
<path d="M299.7 497.8L303.9 492.2L308.1 497.8L303.9 503.4Z" fill="#fff"/>
<rect x="203.0" y="476.8" width="70.0" height="14.7" fill="#FC9006"/>
<path d="M206.1 484.0L210.3 478.4L214.5 484.0L210.3 489.6Z" fill="#fff"/>
<path d="M215.3 483.6L219.5 478.0L223.7 483.6L219.5 489.2Z" fill="#fff"/>
<path d="M253.4 484.9L257.6 479.3L261.8 484.9L257.6 490.5Z" fill="#fff"/>
<path d="M265.2 483.9L269.4 478.3L273.6 483.9L269.4 489.5Z" fill="#fff"/>
<rect x="299.0" y="476.8" width="38.0" height="14.7" fill="#FC9006"/>
<path d="M314.5 484.2L318.7 478.6L322.9 484.2L318.7 489.8Z" fill="#fff"/>
<path d="M325.2 483.5L329.4 477.9L333.6 483.5L329.4 489.1Z" fill="#fff"/>
<rect x="203.0" y="462.2" width="134.0" height="14.7" fill="#FC9006"/>
<path d="M206.7 470.4L210.9 464.8L215.1 470.4L210.9 476.0Z" fill="#fff"/>
<path d="M220.9 470.0L225.1 464.4L229.3 470.0L225.1 475.6Z" fill="#fff"/>
<path d="M235.0 470.1L239.2 464.5L243.4 470.1L239.2 475.7Z" fill="#fff"/>
<path d="M245.3 470.3L249.5 464.7L253.7 470.3L249.5 475.9Z" fill="#fff"/>
<path d="M258.8 470.8L263.0 465.2L267.2 470.8L263.0 476.4Z" fill="#fff"/>
<path d="M272.0 468.0L276.2 462.4L280.4 468.0L276.2 473.6Z" fill="#fff"/>
<path d="M284.4 470.0L288.6 464.4L292.8 470.0L288.6 475.6Z" fill="#fff"/>
<path d="M296.1 469.9L300.3 464.3L304.5 469.9L300.3 475.5Z" fill="#fff"/>
<path d="M310.4 469.9L314.6 464.3L318.8 469.9L314.6 475.5Z" fill="#fff"/>
<path d="M324.3 469.1L328.5 463.5L332.7 469.1L328.5 474.7Z" fill="#fff"/>
<rect x="287.0" y="403.4" width="50.0" height="14.7" fill="#FC9006"/>
<path d="M290.8 412.2L295.0 406.6L299.2 412.2L295.0 417.8Z" fill="#fff"/>
<path d="M306.4 410.9L310.6 405.3L314.8 410.9L310.6 416.5Z" fill="#fff"/>
<path d="M315.7 412.1L319.9 406.5L324.1 412.1L319.9 417.7Z" fill="#fff"/>
<path d="M327.6 411.4L331.8 405.8L336.0 411.4L331.8 417.0Z" fill="#fff"/>
<rect x="203.0" y="388.8" width="134.0" height="14.7" fill="#FC9006"/>
<path d="M201.2 396.3L205.4 390.7L209.6 396.3L205.4 401.9Z" fill="#fff"/>
<path d="M214.5 396.5L218.7 390.9L222.9 396.5L218.7 402.1Z" fill="#fff"/>
<path d="M228.7 396.8L232.9 391.2L237.1 396.8L232.9 402.4Z" fill="#fff"/>
<path d="M236.9 395.9L241.1 390.3L245.3 395.9L241.1 401.5Z" fill="#fff"/>
<path d="M250.1 396.7L254.3 391.1L258.5 396.7L254.3 402.3Z" fill="#fff"/>
<path d="M263.2 396.0L267.4 390.4L271.6 396.0L267.4 401.6Z" fill="#fff"/>
<path d="M273.0 395.0L277.2 389.4L281.4 395.0L277.2 400.6Z" fill="#fff"/>
<path d="M283.5 395.2L287.7 389.6L291.9 395.2L287.7 400.8Z" fill="#fff"/>
<path d="M291.8 395.7L296.0 390.1L300.2 395.7L296.0 401.3Z" fill="#fff"/>
<path d="M304.7 395.3L308.9 389.7L313.1 395.3L308.9 400.9Z" fill="#fff"/>
<path d="M319.9 395.8L324.1 390.2L328.3 395.8L324.1 401.4Z" fill="#fff"/>
<path d="M330.1 394.9L334.3 389.3L338.5 394.9L334.3 400.5Z" fill="#fff"/>
<rect x="203.0" y="374.1" width="134.0" height="14.7" fill="#FC9006"/>
<path d="M202.8 381.8L207.0 376.2L211.2 381.8L207.0 387.4Z" fill="#fff"/>
<path d="M211.5 380.9L215.7 375.3L219.9 380.9L215.7 386.5Z" fill="#fff"/>
<path d="M238.7 382.4L242.9 376.8L247.1 382.4L242.9 388.0Z" fill="#fff"/>
<path d="M251.9 380.3L256.1 374.7L260.3 380.3L256.1 385.9Z" fill="#fff"/>
<path d="M264.7 382.8L268.9 377.2L273.1 382.8L268.9 388.4Z" fill="#fff"/>
<path d="M280.4 381.0L284.6 375.4L288.8 381.0L284.6 386.6Z" fill="#fff"/>
<path d="M295.5 380.2L299.7 374.6L303.9 380.2L299.7 385.8Z" fill="#fff"/>
<path d="M308.1 380.3L312.3 374.7L316.5 380.3L312.3 385.9Z" fill="#fff"/>
<rect x="203.0" y="359.4" width="134.0" height="14.7" fill="#FC9006"/>
<path d="M203.3 366.1L207.5 360.5L211.7 366.1L207.5 371.7Z" fill="#fff"/>
<path d="M219.0 368.1L223.2 362.5L227.4 368.1L223.2 373.7Z" fill="#fff"/>
<path d="M234.3 366.0L238.5 360.4L242.7 366.0L238.5 371.6Z" fill="#fff"/>
<path d="M250.2 366.5L254.4 360.9L258.6 366.5L254.4 372.1Z" fill="#fff"/>
<path d="M272.7 366.7L276.9 361.1L281.1 366.7L276.9 372.3Z" fill="#fff"/>
<path d="M281.7 366.6L285.9 361.0L290.1 366.6L285.9 372.2Z" fill="#fff"/>
<path d="M292.0 367.7L296.2 362.1L300.4 367.7L296.2 373.3Z" fill="#fff"/>
<path d="M300.1 366.1L304.3 360.5L308.5 366.1L304.3 371.7Z" fill="#fff"/>
<path d="M315.6 366.0L319.8 360.4L324.0 366.0L319.8 371.6Z" fill="#fff"/>
<path d="M325.7 368.2L329.9 362.6L334.1 368.2L329.9 373.8Z" fill="#fff"/>
<rect x="305.0" y="344.7" width="32.0" height="14.7" fill="#FC9006"/>
<path d="M306.7 352.5L310.9 346.9L315.1 352.5L310.9 358.1Z" fill="#fff"/>
<path d="M319.5 350.9L323.7 345.3L327.9 350.9L323.7 356.5Z" fill="#fff"/>
<rect x="305.0" y="330.0" width="32.0" height="14.7" fill="#FC9006"/>
<path d="M304.2 336.9L308.4 331.3L312.6 336.9L308.4 342.5Z" fill="#fff"/>
<path d="M314.6 337.3L318.8 331.7L323.0 337.3L318.8 342.9Z" fill="#fff"/>
<path d="M325.5 337.7L329.7 332.1L333.9 337.7L329.7 343.3Z" fill="#fff"/>
<path d="M85.7 564.9L92.0 556.6L98.3 564.9L92.0 573.2Z" fill="#FC9006"/>
<path d="M93.9 564.9L100.2 556.6L106.5 564.9L100.2 573.2Z" fill="#FC9006"/>
<path d="M102.6 564.9L108.9 556.6L115.2 564.9L108.9 573.2Z" fill="#FC9006"/>
<path d="M108.8 564.9L115.1 556.6L121.4 564.9L115.1 573.2Z" fill="#FC9006"/>
<path d="M115.1 564.9L121.4 556.6L127.7 564.9L121.4 573.2Z" fill="#FC9006"/>
<path d="M123.8 564.9L130.1 556.6L136.4 564.9L130.1 573.2Z" fill="#FC9006"/>
<path d="M143.7 564.9L150.0 556.6L156.3 564.9L150.0 573.2Z" fill="#FC9006"/>
<path d="M169.7 564.9L176.0 556.6L182.3 564.9L176.0 573.2Z" fill="#FC9006"/>
<path d="M181.7 564.9L188.0 556.6L194.3 564.9L188.0 573.2Z" fill="#FC9006"/>
<path d="M193.0 564.9L199.3 556.6L205.6 564.9L199.3 573.2Z" fill="#FC9006"/>
<path d="M199.8 564.9L206.1 556.6L212.4 564.9L206.1 573.2Z" fill="#FC9006"/>
<path d="M207.3 564.9L213.6 556.6L219.9 564.9L213.6 573.2Z" fill="#FC9006"/>
<path d="M217.6 564.9L223.9 556.6L230.2 564.9L223.9 573.2Z" fill="#FC9006"/>
<path d="M225.2 564.9L231.5 556.6L237.8 564.9L231.5 573.2Z" fill="#FC9006"/>
<path d="M231.8 564.9L238.1 556.6L244.4 564.9L238.1 573.2Z" fill="#FC9006"/>
<path d="M242.7 564.9L249.0 556.6L255.3 564.9L249.0 573.2Z" fill="#FC9006"/>
<path d="M269.7 564.9L276.0 556.6L282.3 564.9L276.0 573.2Z" fill="#FC9006"/>
<path d="M277.7 564.9L284.0 556.6L290.3 564.9L284.0 573.2Z" fill="#FC9006"/>
<path d="M291.7 564.9L298.0 556.6L304.3 564.9L298.0 573.2Z" fill="#FC9006"/>
<path d="M298.7 564.9L305.0 556.6L311.3 564.9L305.0 573.2Z" fill="#FC9006"/>
<path d="M305.7 564.9L312.0 556.6L318.3 564.9L312.0 573.2Z" fill="#FC9006"/>
<path d="M79.7 550.2L86.0 541.9L92.3 550.2L86.0 558.5Z" fill="#FC9006"/>
<path d="M85.7 550.2L92.0 541.9L98.3 550.2L92.0 558.5Z" fill="#FC9006"/>
<path d="M91.5 550.2L97.8 541.9L104.1 550.2L97.8 558.5Z" fill="#FC9006"/>
<path d="M98.6 550.2L104.9 541.9L111.2 550.2L104.9 558.5Z" fill="#FC9006"/>
<path d="M105.4 550.2L111.7 541.9L118.0 550.2L111.7 558.5Z" fill="#FC9006"/>
<path d="M111.9 550.2L118.2 541.9L124.5 550.2L118.2 558.5Z" fill="#FC9006"/>
<path d="M118.5 550.2L124.8 541.9L131.1 550.2L124.8 558.5Z" fill="#FC9006"/>
<path d="M125.6 550.2L131.9 541.9L138.2 550.2L131.9 558.5Z" fill="#FC9006"/>
<path d="M131.3 550.2L137.6 541.9L143.9 550.2L137.6 558.5Z" fill="#FC9006"/>
<path d="M142.7 550.2L149.0 541.9L155.3 550.2L149.0 558.5Z" fill="#FC9006"/>
<path d="M158.7 550.2L165.0 541.9L171.3 550.2L165.0 558.5Z" fill="#FC9006"/>
<path d="M169.7 550.2L176.0 541.9L182.3 550.2L176.0 558.5Z" fill="#FC9006"/>
<path d="M175.7 550.2L182.0 541.9L188.3 550.2L182.0 558.5Z" fill="#FC9006"/>
<path d="M181.7 550.2L188.0 541.9L194.3 550.2L188.0 558.5Z" fill="#FC9006"/>
<path d="M187.7 550.2L194.0 541.9L200.3 550.2L194.0 558.5Z" fill="#FC9006"/>
<path d="M201.7 550.2L208.0 541.9L214.3 550.2L208.0 558.5Z" fill="#FC9006"/>
<path d="M211.5 550.2L217.8 541.9L224.1 550.2L217.8 558.5Z" fill="#FC9006"/>
<path d="M221.3 550.2L227.6 541.9L233.9 550.2L227.6 558.5Z" fill="#FC9006"/>
<path d="M229.7 550.2L236.0 541.9L242.3 550.2L236.0 558.5Z" fill="#FC9006"/>
<path d="M253.7 550.2L260.0 541.9L266.3 550.2L260.0 558.5Z" fill="#FC9006"/>
<path d="M264.8 550.2L271.1 541.9L277.4 550.2L271.1 558.5Z" fill="#FC9006"/>
<path d="M274.5 550.2L280.8 541.9L287.1 550.2L280.8 558.5Z" fill="#FC9006"/>
<path d="M283.7 550.2L290.0 541.9L296.3 550.2L290.0 558.5Z" fill="#FC9006"/>
<path d="M295.7 550.2L302.0 541.9L308.3 550.2L302.0 558.5Z" fill="#FC9006"/>
<path d="M303.1 550.2L309.4 541.9L315.7 550.2L309.4 558.5Z" fill="#FC9006"/>
<path d="M307.7 550.2L314.0 541.9L320.3 550.2L314.0 558.5Z" fill="#FC9006"/>
<path d="M68.7 535.6L75.0 527.3L81.3 535.6L75.0 543.9Z" fill="#FC9006"/>
<path d="M75.0 535.6L81.3 527.3L87.6 535.6L81.3 543.9Z" fill="#FC9006"/>
<path d="M80.7 535.6L87.0 527.3L93.3 535.6L87.0 543.9Z" fill="#FC9006"/>
<path d="M88.2 535.6L94.5 527.3L100.8 535.6L94.5 543.9Z" fill="#FC9006"/>
<path d="M96.9 535.6L103.2 527.3L109.5 535.6L103.2 543.9Z" fill="#FC9006"/>
<path d="M102.4 535.6L108.7 527.3L115.0 535.6L108.7 543.9Z" fill="#FC9006"/>
<path d="M110.5 535.6L116.8 527.3L123.1 535.6L116.8 543.9Z" fill="#FC9006"/>
<path d="M115.6 535.6L121.9 527.3L128.2 535.6L121.9 543.9Z" fill="#FC9006"/>
<path d="M121.4 535.6L127.7 527.3L134.0 535.6L127.7 543.9Z" fill="#FC9006"/>
<path d="M127.3 535.6L133.6 527.3L139.9 535.6L133.6 543.9Z" fill="#FC9006"/>
<path d="M133.7 535.6L140.0 527.3L146.3 535.6L140.0 543.9Z" fill="#FC9006"/>
<path d="M149.7 535.6L156.0 527.3L162.3 535.6L156.0 543.9Z" fill="#FC9006"/>
<path d="M154.7 535.6L161.0 527.3L167.3 535.6L161.0 543.9Z" fill="#FC9006"/>
<path d="M173.7 535.6L180.0 527.3L186.3 535.6L180.0 543.9Z" fill="#FC9006"/>
<path d="M179.7 535.6L186.0 527.3L192.3 535.6L186.0 543.9Z" fill="#FC9006"/>
<path d="M184.7 535.6L191.0 527.3L197.3 535.6L191.0 543.9Z" fill="#FC9006"/>
<path d="M199.7 535.6L206.0 527.3L212.3 535.6L206.0 543.9Z" fill="#FC9006"/>
<path d="M207.6 535.6L213.9 527.3L220.2 535.6L213.9 543.9Z" fill="#FC9006"/>
<path d="M215.8 535.6L222.1 527.3L228.4 535.6L222.1 543.9Z" fill="#FC9006"/>
<path d="M223.7 535.6L230.0 527.3L236.3 535.6L230.0 543.9Z" fill="#FC9006"/>
<path d="M246.7 535.6L253.0 527.3L259.3 535.6L253.0 543.9Z" fill="#FC9006"/>
<path d="M253.3 535.6L259.6 527.3L265.9 535.6L259.6 543.9Z" fill="#FC9006"/>
<path d="M263.7 535.6L270.0 527.3L276.3 535.6L270.0 543.9Z" fill="#FC9006"/>
<path d="M270.5 535.6L276.8 527.3L283.1 535.6L276.8 543.9Z" fill="#FC9006"/>
<path d="M277.7 535.6L284.0 527.3L290.3 535.6L284.0 543.9Z" fill="#FC9006"/>
<path d="M291.7 535.6L298.0 527.3L304.3 535.6L298.0 543.9Z" fill="#FC9006"/>
<path d="M301.7 535.6L308.0 527.3L314.3 535.6L308.0 543.9Z" fill="#FC9006"/>
<path d="M307.7 535.6L314.0 527.3L320.3 535.6L314.0 543.9Z" fill="#FC9006"/>
<path d="M313.7 535.6L320.0 527.3L326.3 535.6L320.0 543.9Z" fill="#FC9006"/>
<path d="M331.7 535.6L338.0 527.3L344.3 535.6L338.0 543.9Z" fill="#FC9006"/>
<path d="M392.7 535.6L399.0 527.3L405.3 535.6L399.0 543.9Z" fill="#0072BD"/>
<path d="M396.7 535.6L403.0 527.3L409.3 535.6L403.0 543.9Z" fill="#0072BD"/>
<path d="M79.7 520.9L86.0 512.6L92.3 520.9L86.0 529.2Z" fill="#FC9006"/>
<path d="M90.7 520.9L97.0 512.6L103.3 520.9L97.0 529.2Z" fill="#FC9006"/>
<path d="M104.7 520.9L111.0 512.6L117.3 520.9L111.0 529.2Z" fill="#FC9006"/>
<path d="M111.7 520.9L118.0 512.6L124.3 520.9L118.0 529.2Z" fill="#FC9006"/>
<path d="M118.7 520.9L125.0 512.6L131.3 520.9L125.0 529.2Z" fill="#FC9006"/>
<path d="M163.7 520.9L170.0 512.6L176.3 520.9L170.0 529.2Z" fill="#FC9006"/>
<path d="M170.7 520.9L177.0 512.6L183.3 520.9L177.0 529.2Z" fill="#FC9006"/>
<path d="M177.7 520.9L184.0 512.6L190.3 520.9L184.0 529.2Z" fill="#FC9006"/>
<path d="M190.7 520.9L197.0 512.6L203.3 520.9L197.0 529.2Z" fill="#FC9006"/>
<path d="M255.7 520.9L262.0 512.6L268.3 520.9L262.0 529.2Z" fill="#FC9006"/>
<path d="M261.7 520.9L268.0 512.6L274.3 520.9L268.0 529.2Z" fill="#FC9006"/>
<path d="M272.7 520.9L279.0 512.6L285.3 520.9L279.0 529.2Z" fill="#FC9006"/>
<path d="M284.7 520.9L291.0 512.6L297.3 520.9L291.0 529.2Z" fill="#FC9006"/>
<path d="M290.7 520.9L297.0 512.6L303.3 520.9L297.0 529.2Z" fill="#FC9006"/>
<path d="M303.7 520.9L310.0 512.6L316.3 520.9L310.0 529.2Z" fill="#FC9006"/>
<path d="M309.7 520.9L316.0 512.6L322.3 520.9L316.0 529.2Z" fill="#FC9006"/>
<path d="M315.7 520.9L322.0 512.6L328.3 520.9L322.0 529.2Z" fill="#FC9006"/>
<path d="M319.7 520.9L326.0 512.6L332.3 520.9L326.0 529.2Z" fill="#FC9006"/>
<path d="M68.7 506.2L75.0 497.9L81.3 506.2L75.0 514.5Z" fill="#FC9006"/>
<path d="M75.7 506.2L82.0 497.9L88.3 506.2L82.0 514.5Z" fill="#FC9006"/>
<path d="M83.7 506.2L90.0 497.9L96.3 506.2L90.0 514.5Z" fill="#FC9006"/>
<path d="M103.7 506.2L110.0 497.9L116.3 506.2L110.0 514.5Z" fill="#FC9006"/>
<path d="M110.7 506.2L117.0 497.9L123.3 506.2L117.0 514.5Z" fill="#FC9006"/>
<path d="M128.7 506.2L135.0 497.9L141.3 506.2L135.0 514.5Z" fill="#FC9006"/>
<path d="M136.7 506.2L143.0 497.9L149.3 506.2L143.0 514.5Z" fill="#FC9006"/>
<path d="M145.7 506.2L152.0 497.9L158.3 506.2L152.0 514.5Z" fill="#FC9006"/>
<path d="M169.7 506.2L176.0 497.9L182.3 506.2L176.0 514.5Z" fill="#FC9006"/>
<path d="M203.7 506.2L210.0 497.9L216.3 506.2L210.0 514.5Z" fill="#FC9006"/>
<path d="M211.7 506.2L218.0 497.9L224.3 506.2L218.0 514.5Z" fill="#FC9006"/>
<path d="M243.7 506.2L250.0 497.9L256.3 506.2L250.0 514.5Z" fill="#FC9006"/>
<path d="M249.7 506.2L256.0 497.9L262.3 506.2L256.0 514.5Z" fill="#FC9006"/>
<path d="M261.7 506.2L268.0 497.9L274.3 506.2L268.0 514.5Z" fill="#FC9006"/>
<path d="M271.7 506.2L278.0 497.9L284.3 506.2L278.0 514.5Z" fill="#FC9006"/>
<path d="M283.7 506.2L290.0 497.9L296.3 506.2L290.0 514.5Z" fill="#FC9006"/>
<path d="M289.7 506.2L296.0 497.9L302.3 506.2L296.0 514.5Z" fill="#FC9006"/>
<path d="M300.6 506.2L306.9 497.9L313.2 506.2L306.9 514.5Z" fill="#FC9006"/>
<path d="M312.0 506.2L318.3 497.9L324.6 506.2L318.3 514.5Z" fill="#FC9006"/>
<path d="M317.7 506.2L324.0 497.9L330.3 506.2L324.0 514.5Z" fill="#FC9006"/>
<path d="M373.7 506.2L380.0 497.9L386.3 506.2L380.0 514.5Z" fill="#0072BD"/>
<path d="M378.7 506.2L385.0 497.9L391.3 506.2L385.0 514.5Z" fill="#0072BD"/>
<path d="M383.7 506.2L390.0 497.9L396.3 506.2L390.0 514.5Z" fill="#0072BD"/>
<path d="M113.7 491.5L120.0 483.2L126.3 491.5L120.0 499.8Z" fill="#FC9006"/>
<path d="M120.7 491.5L127.0 483.2L133.3 491.5L127.0 499.8Z" fill="#FC9006"/>
<path d="M151.7 491.5L158.0 483.2L164.3 491.5L158.0 499.8Z" fill="#FC9006"/>
<path d="M161.7 491.5L168.0 483.2L174.3 491.5L168.0 499.8Z" fill="#FC9006"/>
<path d="M171.7 491.5L178.0 483.2L184.3 491.5L178.0 499.8Z" fill="#FC9006"/>
<path d="M181.7 491.5L188.0 483.2L194.3 491.5L188.0 499.8Z" fill="#FC9006"/>
<path d="M189.7 491.5L196.0 483.2L202.3 491.5L196.0 499.8Z" fill="#FC9006"/>
<path d="M194.7 491.5L201.0 483.2L207.3 491.5L201.0 499.8Z" fill="#FC9006"/>
<path d="M203.6 491.5L209.9 483.2L216.2 491.5L209.9 499.8Z" fill="#FC9006"/>
<path d="M213.8 491.5L220.1 483.2L226.4 491.5L220.1 499.8Z" fill="#FC9006"/>
<path d="M220.2 491.5L226.5 483.2L232.8 491.5L226.5 499.8Z" fill="#FC9006"/>
<path d="M229.4 491.5L235.7 483.2L242.0 491.5L235.7 499.8Z" fill="#FC9006"/>
<path d="M237.9 491.5L244.2 483.2L250.5 491.5L244.2 499.8Z" fill="#FC9006"/>
<path d="M243.7 491.5L250.0 483.2L256.3 491.5L250.0 499.8Z" fill="#FC9006"/>
<path d="M253.7 491.5L260.0 483.2L266.3 491.5L260.0 499.8Z" fill="#FC9006"/>
<path d="M269.7 491.5L276.0 483.2L282.3 491.5L276.0 499.8Z" fill="#FC9006"/>
<path d="M293.7 491.5L300.0 483.2L306.3 491.5L300.0 499.8Z" fill="#FC9006"/>
<path d="M305.2 491.5L311.5 483.2L317.8 491.5L311.5 499.8Z" fill="#FC9006"/>
<path d="M312.9 491.5L319.2 483.2L325.5 491.5L319.2 499.8Z" fill="#FC9006"/>
<path d="M321.7 491.5L328.0 483.2L334.3 491.5L328.0 499.8Z" fill="#FC9006"/>
<path d="M328.5 491.5L334.8 483.2L341.1 491.5L334.8 499.8Z" fill="#FC9006"/>
<path d="M331.7 491.5L338.0 483.2L344.3 491.5L338.0 499.8Z" fill="#FC9006"/>
<path d="M335.7 491.5L342.0 483.2L348.3 491.5L342.0 499.8Z" fill="#FC9006"/>
<path d="M113.7 476.8L120.0 468.5L126.3 476.8L120.0 485.1Z" fill="#FC9006"/>
<path d="M121.2 476.8L127.5 468.5L133.8 476.8L127.5 485.1Z" fill="#FC9006"/>
<path d="M128.7 476.8L135.0 468.5L141.3 476.8L135.0 485.1Z" fill="#FC9006"/>
<path d="M157.7 476.8L164.0 468.5L170.3 476.8L164.0 485.1Z" fill="#FC9006"/>
<path d="M195.7 476.8L202.0 468.5L208.3 476.8L202.0 485.1Z" fill="#FC9006"/>
<path d="M199.7 476.8L206.0 468.5L212.3 476.8L206.0 485.1Z" fill="#FC9006"/>
<path d="M206.9 476.8L213.2 468.5L219.5 476.8L213.2 485.1Z" fill="#FC9006"/>
<path d="M218.1 476.8L224.4 468.5L230.7 476.8L224.4 485.1Z" fill="#FC9006"/>
<path d="M229.9 476.8L236.2 468.5L242.5 476.8L236.2 485.1Z" fill="#FC9006"/>
<path d="M239.0 476.8L245.3 468.5L251.6 476.8L245.3 485.1Z" fill="#FC9006"/>
<path d="M248.4 476.8L254.7 468.5L261.0 476.8L254.7 485.1Z" fill="#FC9006"/>
<path d="M255.7 476.8L262.0 468.5L268.3 476.8L262.0 485.1Z" fill="#FC9006"/>
<path d="M264.9 476.8L271.2 468.5L277.5 476.8L271.2 485.1Z" fill="#FC9006"/>
<path d="M273.9 476.8L280.2 468.5L286.5 476.8L280.2 485.1Z" fill="#FC9006"/>
<path d="M283.5 476.8L289.8 468.5L296.1 476.8L289.8 485.1Z" fill="#FC9006"/>
<path d="M289.7 476.8L296.0 468.5L302.3 476.8L296.0 485.1Z" fill="#FC9006"/>
<path d="M301.5 476.8L307.8 468.5L314.1 476.8L307.8 485.1Z" fill="#FC9006"/>
<path d="M310.6 476.8L316.9 468.5L323.2 476.8L316.9 485.1Z" fill="#FC9006"/>
<path d="M319.0 476.8L325.3 468.5L331.6 476.8L325.3 485.1Z" fill="#FC9006"/>
<path d="M329.8 476.8L336.1 468.5L342.4 476.8L336.1 485.1Z" fill="#FC9006"/>
<path d="M85.7 462.2L92.0 453.9L98.3 462.2L92.0 470.5Z" fill="#FC9006"/>
<path d="M94.7 462.2L101.0 453.9L107.3 462.2L101.0 470.5Z" fill="#FC9006"/>
<path d="M104.4 462.2L110.7 453.9L117.0 462.2L110.7 470.5Z" fill="#FC9006"/>
<path d="M113.7 462.2L120.0 453.9L126.3 462.2L120.0 470.5Z" fill="#FC9006"/>
<path d="M121.2 462.2L127.5 453.9L133.8 462.2L127.5 470.5Z" fill="#FC9006"/>
<path d="M128.7 462.2L135.0 453.9L141.3 462.2L135.0 470.5Z" fill="#FC9006"/>
<path d="M156.7 462.2L163.0 453.9L169.3 462.2L163.0 470.5Z" fill="#FC9006"/>
<path d="M163.7 462.2L170.0 453.9L176.3 462.2L170.0 470.5Z" fill="#FC9006"/>
<path d="M169.7 462.2L176.0 453.9L182.3 462.2L176.0 470.5Z" fill="#FC9006"/>
<path d="M179.7 462.2L186.0 453.9L192.3 462.2L186.0 470.5Z" fill="#FC9006"/>
<path d="M186.7 462.2L193.0 453.9L199.3 462.2L193.0 470.5Z" fill="#FC9006"/>
<path d="M195.7 462.2L202.0 453.9L208.3 462.2L202.0 470.5Z" fill="#FC9006"/>
<path d="M200.7 462.2L207.0 453.9L213.3 462.2L207.0 470.5Z" fill="#FC9006"/>
<path d="M209.7 462.2L216.0 453.9L222.3 462.2L216.0 470.5Z" fill="#FC9006"/>
<path d="M221.4 462.2L227.7 453.9L234.0 462.2L227.7 470.5Z" fill="#FC9006"/>
<path d="M227.9 462.2L234.2 453.9L240.5 462.2L234.2 470.5Z" fill="#FC9006"/>
<path d="M235.2 462.2L241.5 453.9L247.8 462.2L241.5 470.5Z" fill="#FC9006"/>
<path d="M244.4 462.2L250.7 453.9L257.0 462.2L250.7 470.5Z" fill="#FC9006"/>
<path d="M252.1 462.2L258.4 453.9L264.7 462.2L258.4 470.5Z" fill="#FC9006"/>
<path d="M262.5 462.2L268.8 453.9L275.1 462.2L268.8 470.5Z" fill="#FC9006"/>
<path d="M272.3 462.2L278.6 453.9L284.9 462.2L278.6 470.5Z" fill="#FC9006"/>
<path d="M281.4 462.2L287.7 453.9L294.0 462.2L287.7 470.5Z" fill="#FC9006"/>
<path d="M292.5 462.2L298.8 453.9L305.1 462.2L298.8 470.5Z" fill="#FC9006"/>
<path d="M301.9 462.2L308.2 453.9L314.5 462.2L308.2 470.5Z" fill="#FC9006"/>
<path d="M309.7 462.2L316.0 453.9L322.3 462.2L316.0 470.5Z" fill="#FC9006"/>
<path d="M318.0 462.2L324.3 453.9L330.6 462.2L324.3 470.5Z" fill="#FC9006"/>
<path d="M329.1 462.2L335.4 453.9L341.7 462.2L335.4 470.5Z" fill="#FC9006"/>
<path d="M331.7 462.2L338.0 453.9L344.3 462.2L338.0 470.5Z" fill="#FC9006"/>
<path d="M131.4 447.5L137.7 439.2L144.0 447.5L137.7 455.8Z" fill="#0072BD"/>
<path d="M156.7 447.5L163.0 439.2L169.3 447.5L163.0 455.8Z" fill="#0072BD"/>
<path d="M161.0 447.5L167.3 439.2L173.6 447.5L167.3 455.8Z" fill="#0072BD"/>
<path d="M166.3 447.5L172.6 439.2L178.9 447.5L172.6 455.8Z" fill="#0072BD"/>
<path d="M171.3 447.5L177.6 439.2L183.9 447.5L177.6 455.8Z" fill="#0072BD"/>
<path d="M176.8 447.5L183.1 439.2L189.4 447.5L183.1 455.8Z" fill="#0072BD"/>
<path d="M180.8 447.5L187.1 439.2L193.4 447.5L187.1 455.8Z" fill="#0072BD"/>
<path d="M185.3 447.5L191.6 439.2L197.9 447.5L191.6 455.8Z" fill="#0072BD"/>
<path d="M188.4 447.5L194.7 439.2L201.0 447.5L194.7 455.8Z" fill="#0072BD"/>
<path d="M193.2 447.5L199.5 439.2L205.8 447.5L199.5 455.8Z" fill="#0072BD"/>
<path d="M198.3 447.5L204.6 439.2L210.9 447.5L204.6 455.8Z" fill="#0072BD"/>
<path d="M202.8 447.5L209.1 439.2L215.4 447.5L209.1 455.8Z" fill="#0072BD"/>
<path d="M207.5 447.5L213.8 439.2L220.1 447.5L213.8 455.8Z" fill="#0072BD"/>
<path d="M210.7 447.5L217.0 439.2L223.3 447.5L217.0 455.8Z" fill="#0072BD"/>
<path d="M216.0 447.5L222.3 439.2L228.6 447.5L222.3 455.8Z" fill="#0072BD"/>
<path d="M221.7 447.5L228.0 439.2L234.3 447.5L228.0 455.8Z" fill="#0072BD"/>
<path d="M227.3 447.5L233.6 439.2L239.9 447.5L233.6 455.8Z" fill="#0072BD"/>
<path d="M231.5 447.5L237.8 439.2L244.1 447.5L237.8 455.8Z" fill="#0072BD"/>
<path d="M236.5 447.5L242.8 439.2L249.1 447.5L242.8 455.8Z" fill="#0072BD"/>
<path d="M239.9 447.5L246.2 439.2L252.5 447.5L246.2 455.8Z" fill="#0072BD"/>
<path d="M245.3 447.5L251.6 439.2L257.9 447.5L251.6 455.8Z" fill="#0072BD"/>
<path d="M250.5 447.5L256.8 439.2L263.1 447.5L256.8 455.8Z" fill="#0072BD"/>
<path d="M254.1 447.5L260.4 439.2L266.7 447.5L260.4 455.8Z" fill="#0072BD"/>
<path d="M256.8 447.5L263.1 439.2L269.4 447.5L263.1 455.8Z" fill="#0072BD"/>
<path d="M257.7 447.5L264.0 439.2L270.3 447.5L264.0 455.8Z" fill="#0072BD"/>
<path d="M271.7 447.5L278.0 439.2L284.3 447.5L278.0 455.8Z" fill="#0072BD"/>
<path d="M364.7 447.5L371.0 439.2L377.3 447.5L371.0 455.8Z" fill="#0072BD"/>
<path d="M381.5 447.5L387.8 439.2L394.1 447.5L387.8 455.8Z" fill="#0072BD"/>
<path d="M395.7 447.5L402.0 439.2L408.3 447.5L402.0 455.8Z" fill="#0072BD"/>
<path d="M399.5 447.5L405.8 439.2L412.1 447.5L405.8 455.8Z" fill="#0072BD"/>
<path d="M444.7 447.5L451.0 439.2L457.3 447.5L451.0 455.8Z" fill="#0072BD"/>
<path d="M448.9 447.5L455.2 439.2L461.5 447.5L455.2 455.8Z" fill="#0072BD"/>
<path d="M453.9 447.5L460.2 439.2L466.5 447.5L460.2 455.8Z" fill="#0072BD"/>
<path d="M457.9 447.5L464.2 439.2L470.5 447.5L464.2 455.8Z" fill="#0072BD"/>
<path d="M460.4 447.5L466.7 439.2L473.0 447.5L466.7 455.8Z" fill="#0072BD"/>
<path d="M465.4 447.5L471.7 439.2L478.0 447.5L471.7 455.8Z" fill="#0072BD"/>
<path d="M468.0 447.5L474.3 439.2L480.6 447.5L474.3 455.8Z" fill="#0072BD"/>
<path d="M473.1 447.5L479.4 439.2L485.7 447.5L479.4 455.8Z" fill="#0072BD"/>
<path d="M476.0 447.5L482.3 439.2L488.6 447.5L482.3 455.8Z" fill="#0072BD"/>
<path d="M479.6 447.5L485.9 439.2L492.2 447.5L485.9 455.8Z" fill="#0072BD"/>
<path d="M484.6 447.5L490.9 439.2L497.2 447.5L490.9 455.8Z" fill="#0072BD"/>
<path d="M487.4 447.5L493.7 439.2L500.0 447.5L493.7 455.8Z" fill="#0072BD"/>
<path d="M490.3 447.5L496.6 439.2L502.9 447.5L496.6 455.8Z" fill="#0072BD"/>
<path d="M494.4 447.5L500.7 439.2L507.0 447.5L500.7 455.8Z" fill="#0072BD"/>
<path d="M499.2 447.5L505.5 439.2L511.8 447.5L505.5 455.8Z" fill="#0072BD"/>
<path d="M504.4 447.5L510.7 439.2L517.0 447.5L510.7 455.8Z" fill="#0072BD"/>
<path d="M509.0 447.5L515.3 439.2L521.6 447.5L515.3 455.8Z" fill="#0072BD"/>
<path d="M511.7 447.5L518.0 439.2L524.3 447.5L518.0 455.8Z" fill="#0072BD"/>
<path d="M80.1 432.8L86.4 424.5L92.7 432.8L86.4 441.1Z" fill="#70AB2E"/>
<path d="M108.1 432.8L114.4 424.5L120.7 432.8L114.4 441.1Z" fill="#FC9006"/>
<path d="M154.7 432.8L161.0 424.5L167.3 432.8L161.0 441.1Z" fill="#FC9006"/>
<path d="M161.7 432.8L168.0 424.5L174.3 432.8L168.0 441.1Z" fill="#FC9006"/>
<path d="M165.7 432.8L172.0 424.5L178.3 432.8L172.0 441.1Z" fill="#FC9006"/>
<path d="M173.7 432.8L180.0 424.5L186.3 432.8L180.0 441.1Z" fill="#FC9006"/>
<path d="M191.7 432.8L198.0 424.5L204.3 432.8L198.0 441.1Z" fill="#FC9006"/>
<path d="M223.7 432.8L230.0 424.5L236.3 432.8L230.0 441.1Z" fill="#FC9006"/>
<path d="M229.7 432.8L236.0 424.5L242.3 432.8L236.0 441.1Z" fill="#FC9006"/>
<path d="M235.7 432.8L242.0 424.5L248.3 432.8L242.0 441.1Z" fill="#FC9006"/>
<path d="M251.7 432.8L258.0 424.5L264.3 432.8L258.0 441.1Z" fill="#FC9006"/>
<path d="M259.7 432.8L266.0 424.5L272.3 432.8L266.0 441.1Z" fill="#FC9006"/>
<path d="M311.7 432.8L318.0 424.5L324.3 432.8L318.0 441.1Z" fill="#FC9006"/>
<path d="M358.7 432.8L365.0 424.5L371.3 432.8L365.0 441.1Z" fill="#70AB2E"/>
<path d="M362.7 432.8L369.0 424.5L375.3 432.8L369.0 441.1Z" fill="#70AB2E"/>
<path d="M366.2 432.8L372.5 424.5L378.8 432.8L372.5 441.1Z" fill="#70AB2E"/>
<path d="M371.3 432.8L377.6 424.5L383.9 432.8L377.6 441.1Z" fill="#70AB2E"/>
<path d="M377.0 432.8L383.3 424.5L389.6 432.8L383.3 441.1Z" fill="#70AB2E"/>
<path d="M380.9 432.8L387.2 424.5L393.5 432.8L387.2 441.1Z" fill="#70AB2E"/>
<path d="M383.5 432.8L389.8 424.5L396.1 432.8L389.8 441.1Z" fill="#70AB2E"/>
<path d="M386.0 432.8L392.3 424.5L398.6 432.8L392.3 441.1Z" fill="#70AB2E"/>
<path d="M391.3 432.8L397.6 424.5L403.9 432.8L397.6 441.1Z" fill="#70AB2E"/>
<path d="M393.8 432.8L400.1 424.5L406.4 432.8L400.1 441.1Z" fill="#70AB2E"/>
<path d="M398.6 432.8L404.9 424.5L411.2 432.8L404.9 441.1Z" fill="#70AB2E"/>
<path d="M402.9 432.8L409.2 424.5L415.5 432.8L409.2 441.1Z" fill="#70AB2E"/>
<path d="M406.3 432.8L412.6 424.5L418.9 432.8L412.6 441.1Z" fill="#70AB2E"/>
<path d="M411.3 432.8L417.6 424.5L423.9 432.8L417.6 441.1Z" fill="#70AB2E"/>
<path d="M413.8 432.8L420.1 424.5L426.4 432.8L420.1 441.1Z" fill="#70AB2E"/>
<path d="M416.6 432.8L422.9 424.5L429.2 432.8L422.9 441.1Z" fill="#70AB2E"/>
<path d="M420.5 432.8L426.8 424.5L433.1 432.8L426.8 441.1Z" fill="#70AB2E"/>
<path d="M423.0 432.8L429.3 424.5L435.6 432.8L429.3 441.1Z" fill="#70AB2E"/>
<path d="M428.1 432.8L434.4 424.5L440.7 432.8L434.4 441.1Z" fill="#70AB2E"/>
<path d="M431.3 432.8L437.6 424.5L443.9 432.8L437.6 441.1Z" fill="#70AB2E"/>
<path d="M434.2 432.8L440.5 424.5L446.8 432.8L440.5 441.1Z" fill="#70AB2E"/>
<path d="M436.7 432.8L443.0 424.5L449.3 432.8L443.0 441.1Z" fill="#70AB2E"/>
<path d="M441.2 432.8L447.5 424.5L453.8 432.8L447.5 441.1Z" fill="#70AB2E"/>
<path d="M445.1 432.8L451.4 424.5L457.7 432.8L451.4 441.1Z" fill="#70AB2E"/>
<path d="M449.6 432.8L455.9 424.5L462.2 432.8L455.9 441.1Z" fill="#70AB2E"/>
<path d="M454.1 432.8L460.4 424.5L466.7 432.8L460.4 441.1Z" fill="#70AB2E"/>
<path d="M459.2 432.8L465.5 424.5L471.8 432.8L465.5 441.1Z" fill="#70AB2E"/>
<path d="M464.7 432.8L471.0 424.5L477.3 432.8L471.0 441.1Z" fill="#70AB2E"/>
<path d="M465.7 432.8L472.0 424.5L478.3 432.8L472.0 441.1Z" fill="#70AB2E"/>
<path d="M481.7 432.8L488.0 424.5L494.3 432.8L488.0 441.1Z" fill="#70AB2E"/>
<path d="M565.7 432.8L572.0 424.5L578.3 432.8L572.0 441.1Z" fill="#0072BD"/>
<path d="M568.8 432.8L575.1 424.5L581.4 432.8L575.1 441.1Z" fill="#0072BD"/>
<path d="M572.7 432.8L579.0 424.5L585.3 432.8L579.0 441.1Z" fill="#0072BD"/>
<path d="M575.7 432.8L582.0 424.5L588.3 432.8L582.0 441.1Z" fill="#0072BD"/>
<path d="M578.2 432.8L584.5 424.5L590.8 432.8L584.5 441.1Z" fill="#0072BD"/>
<path d="M582.1 432.8L588.4 424.5L594.7 432.8L588.4 441.1Z" fill="#0072BD"/>
<path d="M586.9 432.8L593.2 424.5L599.5 432.8L593.2 441.1Z" fill="#0072BD"/>
<path d="M589.9 432.8L596.2 424.5L602.5 432.8L596.2 441.1Z" fill="#0072BD"/>
<path d="M593.2 432.8L599.5 424.5L605.8 432.8L599.5 441.1Z" fill="#0072BD"/>
<path d="M596.7 432.8L603.0 424.5L609.3 432.8L603.0 441.1Z" fill="#0072BD"/>
<path d="M601.4 432.8L607.7 424.5L614.0 432.8L607.7 441.1Z" fill="#0072BD"/>
<path d="M605.5 432.8L611.8 424.5L618.1 432.8L611.8 441.1Z" fill="#0072BD"/>
<path d="M609.9 432.8L616.2 424.5L622.5 432.8L616.2 441.1Z" fill="#0072BD"/>
<path d="M614.8 432.8L621.1 424.5L627.4 432.8L621.1 441.1Z" fill="#0072BD"/>
<path d="M618.5 432.8L624.8 424.5L631.1 432.8L624.8 441.1Z" fill="#0072BD"/>
<path d="M623.6 432.8L629.9 424.5L636.2 432.8L629.9 441.1Z" fill="#0072BD"/>
<path d="M628.9 432.8L635.2 424.5L641.5 432.8L635.2 441.1Z" fill="#0072BD"/>
<path d="M631.6 432.8L637.9 424.5L644.2 432.8L637.9 441.1Z" fill="#0072BD"/>
<path d="M637.1 432.8L643.4 424.5L649.7 432.8L643.4 441.1Z" fill="#0072BD"/>
<path d="M641.9 432.8L648.2 424.5L654.5 432.8L648.2 441.1Z" fill="#0072BD"/>
<path d="M644.7 432.8L651.0 424.5L657.3 432.8L651.0 441.1Z" fill="#0072BD"/>
<path d="M648.6 432.8L654.9 424.5L661.2 432.8L654.9 441.1Z" fill="#0072BD"/>
<path d="M653.1 432.8L659.4 424.5L665.7 432.8L659.4 441.1Z" fill="#0072BD"/>
<path d="M658.5 432.8L664.8 424.5L671.1 432.8L664.8 441.1Z" fill="#0072BD"/>
<path d="M661.7 432.8L668.0 424.5L674.3 432.8L668.0 441.1Z" fill="#0072BD"/>
<path d="M687.7 432.8L694.0 424.5L700.3 432.8L694.0 441.1Z" fill="#0072BD"/>
<path d="M700.7 432.8L707.0 424.5L713.3 432.8L707.0 441.1Z" fill="#0072BD"/>
<path d="M705.7 432.8L712.0 424.5L718.3 432.8L712.0 441.1Z" fill="#0072BD"/>
<path d="M711.7 432.8L718.0 424.5L724.3 432.8L718.0 441.1Z" fill="#0072BD"/>
<path d="M725.7 432.8L732.0 424.5L738.3 432.8L732.0 441.1Z" fill="#0072BD"/>
<path d="M731.7 432.8L738.0 424.5L744.3 432.8L738.0 441.1Z" fill="#0072BD"/>
<path d="M63.7 418.1L70.0 409.8L76.3 418.1L70.0 426.4Z" fill="#FC9006"/>
<path d="M87.7 418.1L94.0 409.8L100.3 418.1L94.0 426.4Z" fill="#FC9006"/>
<path d="M94.7 418.1L101.0 409.8L107.3 418.1L101.0 426.4Z" fill="#FC9006"/>
<path d="M102.7 418.1L109.0 409.8L115.3 418.1L109.0 426.4Z" fill="#FC9006"/>
<path d="M119.3 418.1L125.6 409.8L131.9 418.1L125.6 426.4Z" fill="#FC9006"/>
<path d="M128.7 418.1L135.0 409.8L141.3 418.1L135.0 426.4Z" fill="#FC9006"/>
<path d="M137.7 418.1L144.0 409.8L150.3 418.1L144.0 426.4Z" fill="#FC9006"/>
<path d="M145.7 418.1L152.0 409.8L158.3 418.1L152.0 426.4Z" fill="#FC9006"/>
<path d="M161.7 418.1L168.0 409.8L174.3 418.1L168.0 426.4Z" fill="#FC9006"/>
<path d="M178.7 418.1L185.0 409.8L191.3 418.1L185.0 426.4Z" fill="#FC9006"/>
<path d="M188.7 418.1L195.0 409.8L201.3 418.1L195.0 426.4Z" fill="#FC9006"/>
<path d="M199.7 418.1L206.0 409.8L212.3 418.1L206.0 426.4Z" fill="#FC9006"/>
<path d="M207.7 418.1L214.0 409.8L220.3 418.1L214.0 426.4Z" fill="#FC9006"/>
<path d="M213.7 418.1L220.0 409.8L226.3 418.1L220.0 426.4Z" fill="#FC9006"/>
<path d="M247.7 418.1L254.0 409.8L260.3 418.1L254.0 426.4Z" fill="#FC9006"/>
<path d="M281.7 418.1L288.0 409.8L294.3 418.1L288.0 426.4Z" fill="#FC9006"/>
<path d="M287.7 418.1L294.0 409.8L300.3 418.1L294.0 426.4Z" fill="#FC9006"/>
<path d="M309.7 418.1L316.0 409.8L322.3 418.1L316.0 426.4Z" fill="#FC9006"/>
<path d="M333.7 418.1L340.0 409.8L346.3 418.1L340.0 426.4Z" fill="#FC9006"/>
<path d="M344.6 418.1L350.9 409.8L357.2 418.1L350.9 426.4Z" fill="#7E2F8E"/>
<path d="M354.8 418.1L361.1 409.8L367.4 418.1L361.1 426.4Z" fill="#70AB2E"/>
<path d="M379.7 418.1L386.0 409.8L392.3 418.1L386.0 426.4Z" fill="#70AB2E"/>
<path d="M386.7 418.1L393.0 409.8L399.3 418.1L393.0 426.4Z" fill="#70AB2E"/>
<path d="M392.7 418.1L399.0 409.8L405.3 418.1L399.0 426.4Z" fill="#70AB2E"/>
<path d="M437.7 418.1L444.0 409.8L450.3 418.1L444.0 426.4Z" fill="#0072BD"/>
<path d="M441.4 418.1L447.7 409.8L454.0 418.1L447.7 426.4Z" fill="#0072BD"/>
<path d="M446.2 418.1L452.5 409.8L458.8 418.1L452.5 426.4Z" fill="#0072BD"/>
<path d="M450.5 418.1L456.8 409.8L463.1 418.1L456.8 426.4Z" fill="#0072BD"/>
<path d="M454.4 418.1L460.7 409.8L467.0 418.1L460.7 426.4Z" fill="#0072BD"/>
<path d="M459.5 418.1L465.8 409.8L472.1 418.1L465.8 426.4Z" fill="#0072BD"/>
<path d="M462.2 418.1L468.5 409.8L474.8 418.1L468.5 426.4Z" fill="#0072BD"/>
<path d="M467.1 418.1L473.4 409.8L479.7 418.1L473.4 426.4Z" fill="#0072BD"/>
<path d="M469.6 418.1L475.9 409.8L482.2 418.1L475.9 426.4Z" fill="#0072BD"/>
<path d="M474.0 418.1L480.3 409.8L486.6 418.1L480.3 426.4Z" fill="#0072BD"/>
<path d="M478.0 418.1L484.3 409.8L490.6 418.1L484.3 426.4Z" fill="#0072BD"/>
<path d="M481.1 418.1L487.4 409.8L493.7 418.1L487.4 426.4Z" fill="#0072BD"/>
<path d="M485.8 418.1L492.1 409.8L498.4 418.1L492.1 426.4Z" fill="#0072BD"/>
<path d="M489.9 418.1L496.2 409.8L502.5 418.1L496.2 426.4Z" fill="#0072BD"/>
<path d="M494.3 418.1L500.6 409.8L506.9 418.1L500.6 426.4Z" fill="#0072BD"/>
<path d="M499.7 418.1L506.0 409.8L512.3 418.1L506.0 426.4Z" fill="#0072BD"/>
<path d="M503.0 418.1L509.3 409.8L515.6 418.1L509.3 426.4Z" fill="#0072BD"/>
<path d="M505.4 418.1L511.7 409.8L518.0 418.1L511.7 426.4Z" fill="#0072BD"/>
<path d="M508.8 418.1L515.1 409.8L521.4 418.1L515.1 426.4Z" fill="#0072BD"/>
<path d="M513.5 418.1L519.8 409.8L526.1 418.1L519.8 426.4Z" fill="#0072BD"/>
<path d="M516.5 418.1L522.8 409.8L529.1 418.1L522.8 426.4Z" fill="#0072BD"/>
<path d="M519.5 418.1L525.8 409.8L532.1 418.1L525.8 426.4Z" fill="#0072BD"/>
<path d="M524.9 418.1L531.2 409.8L537.5 418.1L531.2 426.4Z" fill="#0072BD"/>
<path d="M529.4 418.1L535.7 409.8L542.0 418.1L535.7 426.4Z" fill="#0072BD"/>
<path d="M532.7 418.1L539.0 409.8L545.3 418.1L539.0 426.4Z" fill="#0072BD"/>
<path d="M548.7 418.1L555.0 409.8L561.3 418.1L555.0 426.4Z" fill="#0072BD"/>
<path d="M554.7 418.1L561.0 409.8L567.3 418.1L561.0 426.4Z" fill="#0072BD"/>
<path d="M560.0 418.1L566.3 409.8L572.6 418.1L566.3 426.4Z" fill="#0072BD"/>
<path d="M563.5 418.1L569.8 409.8L576.1 418.1L569.8 426.4Z" fill="#0072BD"/>
<path d="M568.1 418.1L574.4 409.8L580.7 418.1L574.4 426.4Z" fill="#0072BD"/>
<path d="M571.2 418.1L577.5 409.8L583.8 418.1L577.5 426.4Z" fill="#0072BD"/>
<path d="M575.0 418.1L581.3 409.8L587.6 418.1L581.3 426.4Z" fill="#0072BD"/>
<path d="M580.1 418.1L586.4 409.8L592.7 418.1L586.4 426.4Z" fill="#0072BD"/>
<path d="M585.5 418.1L591.8 409.8L598.1 418.1L591.8 426.4Z" fill="#0072BD"/>
<path d="M590.8 418.1L597.1 409.8L603.4 418.1L597.1 426.4Z" fill="#0072BD"/>
<path d="M594.4 418.1L600.7 409.8L607.0 418.1L600.7 426.4Z" fill="#0072BD"/>
<path d="M598.8 418.1L605.1 409.8L611.4 418.1L605.1 426.4Z" fill="#0072BD"/>
<path d="M602.2 418.1L608.5 409.8L614.8 418.1L608.5 426.4Z" fill="#0072BD"/>
<path d="M605.1 418.1L611.4 409.8L617.7 418.1L611.4 426.4Z" fill="#0072BD"/>
<path d="M609.1 418.1L615.4 409.8L621.7 418.1L615.4 426.4Z" fill="#0072BD"/>
<path d="M612.7 418.1L619.0 409.8L625.3 418.1L619.0 426.4Z" fill="#0072BD"/>
<path d="M626.7 418.1L633.0 409.8L639.3 418.1L633.0 426.4Z" fill="#0072BD"/>
<path d="M631.9 418.1L638.2 409.8L644.5 418.1L638.2 426.4Z" fill="#0072BD"/>
<path d="M636.6 418.1L642.9 409.8L649.2 418.1L642.9 426.4Z" fill="#0072BD"/>
<path d="M642.2 418.1L648.5 409.8L654.8 418.1L648.5 426.4Z" fill="#0072BD"/>
<path d="M645.5 418.1L651.8 409.8L658.1 418.1L651.8 426.4Z" fill="#0072BD"/>
<path d="M648.5 418.1L654.8 409.8L661.1 418.1L654.8 426.4Z" fill="#0072BD"/>
<path d="M652.3 418.1L658.6 409.8L664.9 418.1L658.6 426.4Z" fill="#0072BD"/>
<path d="M655.6 418.1L661.9 409.8L668.2 418.1L661.9 426.4Z" fill="#0072BD"/>
<path d="M658.8 418.1L665.1 409.8L671.4 418.1L665.1 426.4Z" fill="#0072BD"/>
<path d="M662.5 418.1L668.8 409.8L675.1 418.1L668.8 426.4Z" fill="#0072BD"/>
<path d="M666.7 418.1L673.0 409.8L679.3 418.1L673.0 426.4Z" fill="#0072BD"/>
<path d="M688.7 418.1L695.0 409.8L701.3 418.1L695.0 426.4Z" fill="#0072BD"/>
<path d="M694.7 418.1L701.0 409.8L707.3 418.1L701.0 426.4Z" fill="#0072BD"/>
<path d="M68.7 403.4L75.0 395.1L81.3 403.4L75.0 411.7Z" fill="#FC9006"/>
<path d="M74.7 403.4L81.0 395.1L87.3 403.4L81.0 411.7Z" fill="#FC9006"/>
<path d="M88.5 403.4L94.8 395.1L101.1 403.4L94.8 411.7Z" fill="#FC9006"/>
<path d="M95.0 403.4L101.3 395.1L107.6 403.4L101.3 411.7Z" fill="#FC9006"/>
<path d="M102.5 403.4L108.8 395.1L115.1 403.4L108.8 411.7Z" fill="#FC9006"/>
<path d="M111.8 403.4L118.1 395.1L124.4 403.4L118.1 411.7Z" fill="#FC9006"/>
<path d="M118.7 403.4L125.0 395.1L131.3 403.4L125.0 411.7Z" fill="#FC9006"/>
<path d="M130.7 403.4L137.0 395.1L143.3 403.4L137.0 411.7Z" fill="#FC9006"/>
<path d="M136.1 403.4L142.4 395.1L148.7 403.4L142.4 411.7Z" fill="#FC9006"/>
<path d="M143.7 403.4L150.0 395.1L156.3 403.4L150.0 411.7Z" fill="#FC9006"/>
<path d="M149.7 403.4L156.0 395.1L162.3 403.4L156.0 411.7Z" fill="#FC9006"/>
<path d="M161.7 403.4L168.0 395.1L174.3 403.4L168.0 411.7Z" fill="#FC9006"/>
<path d="M173.7 403.4L180.0 395.1L186.3 403.4L180.0 411.7Z" fill="#FC9006"/>
<path d="M188.7 403.4L195.0 395.1L201.3 403.4L195.0 411.7Z" fill="#FC9006"/>
<path d="M198.7 403.4L205.0 395.1L211.3 403.4L205.0 411.7Z" fill="#FC9006"/>
<path d="M205.1 403.4L211.4 395.1L217.7 403.4L211.4 411.7Z" fill="#FC9006"/>
<path d="M212.5 403.4L218.8 395.1L225.1 403.4L218.8 411.7Z" fill="#FC9006"/>
<path d="M221.8 403.4L228.1 395.1L234.4 403.4L228.1 411.7Z" fill="#FC9006"/>
<path d="M233.0 403.4L239.3 395.1L245.6 403.4L239.3 411.7Z" fill="#FC9006"/>
<path d="M242.6 403.4L248.9 395.1L255.2 403.4L248.9 411.7Z" fill="#FC9006"/>
<path d="M250.3 403.4L256.6 395.1L262.9 403.4L256.6 411.7Z" fill="#FC9006"/>
<path d="M261.8 403.4L268.1 395.1L274.4 403.4L268.1 411.7Z" fill="#FC9006"/>
<path d="M269.0 403.4L275.3 395.1L281.6 403.4L275.3 411.7Z" fill="#FC9006"/>
<path d="M275.1 403.4L281.4 395.1L287.7 403.4L281.4 411.7Z" fill="#FC9006"/>
<path d="M282.8 403.4L289.1 395.1L295.4 403.4L289.1 411.7Z" fill="#FC9006"/>
<path d="M291.4 403.4L297.7 395.1L304.0 403.4L297.7 411.7Z" fill="#FC9006"/>
<path d="M297.8 403.4L304.1 395.1L310.4 403.4L304.1 411.7Z" fill="#FC9006"/>
<path d="M304.9 403.4L311.2 395.1L317.5 403.4L311.2 411.7Z" fill="#FC9006"/>
<path d="M313.1 403.4L319.4 395.1L325.7 403.4L319.4 411.7Z" fill="#FC9006"/>
<path d="M322.5 403.4L328.8 395.1L335.1 403.4L328.8 411.7Z" fill="#FC9006"/>
<path d="M329.3 403.4L335.6 395.1L341.9 403.4L335.6 411.7Z" fill="#FC9006"/>
<path d="M333.7 403.4L340.0 395.1L346.3 403.4L340.0 411.7Z" fill="#FC9006"/>
<path d="M484.7 403.4L491.0 395.1L497.3 403.4L491.0 411.7Z" fill="#0072BD"/>
<path d="M490.0 403.4L496.3 395.1L502.6 403.4L496.3 411.7Z" fill="#0072BD"/>
<path d="M495.7 403.4L502.0 395.1L508.3 403.4L502.0 411.7Z" fill="#0072BD"/>
<path d="M500.2 403.4L506.5 395.1L512.8 403.4L506.5 411.7Z" fill="#0072BD"/>
<path d="M504.9 403.4L511.2 395.1L517.5 403.4L511.2 411.7Z" fill="#0072BD"/>
<path d="M509.3 403.4L515.6 395.1L521.9 403.4L515.6 411.7Z" fill="#0072BD"/>
<path d="M512.1 403.4L518.4 395.1L524.7 403.4L518.4 411.7Z" fill="#0072BD"/>
<path d="M514.6 403.4L520.9 395.1L527.2 403.4L520.9 411.7Z" fill="#0072BD"/>
<path d="M517.1 403.4L523.4 395.1L529.7 403.4L523.4 411.7Z" fill="#0072BD"/>
<path d="M522.5 403.4L528.8 395.1L535.1 403.4L528.8 411.7Z" fill="#0072BD"/>
<path d="M527.2 403.4L533.5 395.1L539.8 403.4L533.5 411.7Z" fill="#0072BD"/>
<path d="M532.8 403.4L539.1 395.1L545.4 403.4L539.1 411.7Z" fill="#0072BD"/>
<path d="M535.3 403.4L541.6 395.1L547.9 403.4L541.6 411.7Z" fill="#0072BD"/>
<path d="M539.8 403.4L546.1 395.1L552.4 403.4L546.1 411.7Z" fill="#0072BD"/>
<path d="M543.7 403.4L550.0 395.1L556.3 403.4L550.0 411.7Z" fill="#0072BD"/>
<path d="M548.6 403.4L554.9 395.1L561.2 403.4L554.9 411.7Z" fill="#0072BD"/>
<path d="M550.7 403.4L557.0 395.1L563.3 403.4L557.0 411.7Z" fill="#0072BD"/>
<path d="M564.7 403.4L571.0 395.1L577.3 403.4L571.0 411.7Z" fill="#0072BD"/>
<path d="M570.4 403.4L576.7 395.1L583.0 403.4L576.7 411.7Z" fill="#0072BD"/>
<path d="M573.0 403.4L579.3 395.1L585.6 403.4L579.3 411.7Z" fill="#0072BD"/>
<path d="M577.2 403.4L583.5 395.1L589.8 403.4L583.5 411.7Z" fill="#0072BD"/>
<path d="M582.1 403.4L588.4 395.1L594.7 403.4L588.4 411.7Z" fill="#0072BD"/>
<path d="M587.5 403.4L593.8 395.1L600.1 403.4L593.8 411.7Z" fill="#0072BD"/>
<path d="M592.3 403.4L598.6 395.1L604.9 403.4L598.6 411.7Z" fill="#0072BD"/>
<path d="M597.0 403.4L603.3 395.1L609.6 403.4L603.3 411.7Z" fill="#0072BD"/>
<path d="M602.0 403.4L608.3 395.1L614.6 403.4L608.3 411.7Z" fill="#0072BD"/>
<path d="M607.4 403.4L613.7 395.1L620.0 403.4L613.7 411.7Z" fill="#0072BD"/>
<path d="M611.0 403.4L617.3 395.1L623.6 403.4L617.3 411.7Z" fill="#0072BD"/>
<path d="M615.7 403.4L622.0 395.1L628.3 403.4L622.0 411.7Z" fill="#0072BD"/>
<path d="M621.0 403.4L627.3 395.1L633.6 403.4L627.3 411.7Z" fill="#0072BD"/>
<path d="M626.3 403.4L632.6 395.1L638.9 403.4L632.6 411.7Z" fill="#0072BD"/>
<path d="M630.1 403.4L636.4 395.1L642.7 403.4L636.4 411.7Z" fill="#0072BD"/>
<path d="M635.1 403.4L641.4 395.1L647.7 403.4L641.4 411.7Z" fill="#0072BD"/>
<path d="M640.3 403.4L646.6 395.1L652.9 403.4L646.6 411.7Z" fill="#0072BD"/>
<path d="M644.6 403.4L650.9 395.1L657.2 403.4L650.9 411.7Z" fill="#0072BD"/>
<path d="M649.1 403.4L655.4 395.1L661.7 403.4L655.4 411.7Z" fill="#0072BD"/>
<path d="M652.8 403.4L659.1 395.1L665.4 403.4L659.1 411.7Z" fill="#0072BD"/>
<path d="M657.1 403.4L663.4 395.1L669.7 403.4L663.4 411.7Z" fill="#0072BD"/>
<path d="M661.5 403.4L667.8 395.1L674.1 403.4L667.8 411.7Z" fill="#0072BD"/>
<path d="M664.2 403.4L670.5 395.1L676.8 403.4L670.5 411.7Z" fill="#0072BD"/>
<path d="M668.7 403.4L675.0 395.1L681.3 403.4L675.0 411.7Z" fill="#0072BD"/>
<path d="M674.3 403.4L680.6 395.1L686.9 403.4L680.6 411.7Z" fill="#0072BD"/>
<path d="M679.6 403.4L685.9 395.1L692.2 403.4L685.9 411.7Z" fill="#0072BD"/>
<path d="M702.1 403.4L708.4 395.1L714.7 403.4L708.4 411.7Z" fill="#0072BD"/>
<path d="M117.4 388.8L123.7 380.5L130.0 388.8L123.7 397.1Z" fill="#FC9006"/>
<path d="M130.7 388.8L137.0 380.5L143.3 388.8L137.0 397.1Z" fill="#FC9006"/>
<path d="M136.1 388.8L142.4 380.5L148.7 388.8L142.4 397.1Z" fill="#FC9006"/>
<path d="M149.7 388.8L156.0 380.5L162.3 388.8L156.0 397.1Z" fill="#FC9006"/>
<path d="M177.2 388.8L183.5 380.5L189.8 388.8L183.5 397.1Z" fill="#FC9006"/>
<path d="M199.7 388.8L206.0 380.5L212.3 388.8L206.0 397.1Z" fill="#FC9006"/>
<path d="M206.9 388.8L213.2 380.5L219.5 388.8L213.2 397.1Z" fill="#FC9006"/>
<path d="M218.6 388.8L224.9 380.5L231.2 388.8L224.9 397.1Z" fill="#FC9006"/>
<path d="M229.9 388.8L236.2 380.5L242.5 388.8L236.2 397.1Z" fill="#FC9006"/>
<path d="M239.5 388.8L245.8 380.5L252.1 388.8L245.8 397.1Z" fill="#FC9006"/>
<path d="M248.0 388.8L254.3 380.5L260.6 388.8L254.3 397.1Z" fill="#FC9006"/>
<path d="M254.6 388.8L260.9 380.5L267.2 388.8L260.9 397.1Z" fill="#FC9006"/>
<path d="M260.9 388.8L267.2 380.5L273.5 388.8L267.2 397.1Z" fill="#FC9006"/>
<path d="M272.7 388.8L279.0 380.5L285.3 388.8L279.0 397.1Z" fill="#FC9006"/>
<path d="M280.1 388.8L286.4 380.5L292.7 388.8L286.4 397.1Z" fill="#FC9006"/>
<path d="M290.3 388.8L296.6 380.5L302.9 388.8L296.6 397.1Z" fill="#FC9006"/>
<path d="M297.9 388.8L304.2 380.5L310.5 388.8L304.2 397.1Z" fill="#FC9006"/>
<path d="M308.8 388.8L315.1 380.5L321.4 388.8L315.1 397.1Z" fill="#FC9006"/>
<path d="M318.4 388.8L324.7 380.5L331.0 388.8L324.7 397.1Z" fill="#FC9006"/>
<path d="M326.1 388.8L332.4 380.5L338.7 388.8L332.4 397.1Z" fill="#FC9006"/>
<path d="M333.2 388.8L339.5 380.5L345.8 388.8L339.5 397.1Z" fill="#FC9006"/>
<path d="M342.3 388.8L348.6 380.5L354.9 388.8L348.6 397.1Z" fill="#7E2F8E"/>
<path d="M140.7 374.1L147.0 365.8L153.3 374.1L147.0 382.4Z" fill="#FC9006"/>
<path d="M148.7 374.1L155.0 365.8L161.3 374.1L155.0 382.4Z" fill="#FC9006"/>
<path d="M156.7 374.1L163.0 365.8L169.3 374.1L163.0 382.4Z" fill="#FC9006"/>
<path d="M163.7 374.1L170.0 365.8L176.3 374.1L170.0 382.4Z" fill="#FC9006"/>
<path d="M169.7 374.1L176.0 365.8L182.3 374.1L176.0 382.4Z" fill="#FC9006"/>
<path d="M178.7 374.1L185.0 365.8L191.3 374.1L185.0 382.4Z" fill="#FC9006"/>
<path d="M185.7 374.1L192.0 365.8L198.3 374.1L192.0 382.4Z" fill="#FC9006"/>
<path d="M191.7 374.1L198.0 365.8L204.3 374.1L198.0 382.4Z" fill="#FC9006"/>
<path d="M196.7 374.1L203.0 365.8L209.3 374.1L203.0 382.4Z" fill="#FC9006"/>
<path d="M206.3 374.1L212.6 365.8L218.9 374.1L212.6 382.4Z" fill="#FC9006"/>
<path d="M214.5 374.1L220.8 365.8L227.1 374.1L220.8 382.4Z" fill="#FC9006"/>
<path d="M223.3 374.1L229.6 365.8L235.9 374.1L229.6 382.4Z" fill="#FC9006"/>
<path d="M235.0 374.1L241.3 365.8L247.6 374.1L241.3 382.4Z" fill="#FC9006"/>
<path d="M243.9 374.1L250.2 365.8L256.5 374.1L250.2 382.4Z" fill="#FC9006"/>
<path d="M253.4 374.1L259.7 365.8L266.0 374.1L259.7 382.4Z" fill="#FC9006"/>
<path d="M264.6 374.1L270.9 365.8L277.2 374.1L270.9 382.4Z" fill="#FC9006"/>
<path d="M271.7 374.1L278.0 365.8L284.3 374.1L278.0 382.4Z" fill="#FC9006"/>
<path d="M278.6 374.1L284.9 365.8L291.2 374.1L284.9 382.4Z" fill="#FC9006"/>
<path d="M290.0 374.1L296.3 365.8L302.6 374.1L296.3 382.4Z" fill="#FC9006"/>
<path d="M300.9 374.1L307.2 365.8L313.5 374.1L307.2 382.4Z" fill="#FC9006"/>
<path d="M308.4 374.1L314.7 365.8L321.0 374.1L314.7 382.4Z" fill="#FC9006"/>
<path d="M315.6 374.1L321.9 365.8L328.2 374.1L321.9 382.4Z" fill="#FC9006"/>
<path d="M326.0 374.1L332.3 365.8L338.6 374.1L332.3 382.4Z" fill="#FC9006"/>
<path d="M333.7 374.1L340.0 365.8L346.3 374.1L340.0 382.4Z" fill="#FC9006"/>
<path d="M63.7 359.4L70.0 351.1L76.3 359.4L70.0 367.7Z" fill="#FC9006"/>
<path d="M103.7 359.4L110.0 351.1L116.3 359.4L110.0 367.7Z" fill="#FC9006"/>
<path d="M111.7 359.4L118.0 351.1L124.3 359.4L118.0 367.7Z" fill="#FC9006"/>
<path d="M134.7 359.4L141.0 351.1L147.3 359.4L141.0 367.7Z" fill="#FC9006"/>
<path d="M158.7 359.4L165.0 351.1L171.3 359.4L165.0 367.7Z" fill="#FC9006"/>
<path d="M173.7 359.4L180.0 351.1L186.3 359.4L180.0 367.7Z" fill="#FC9006"/>
<path d="M189.7 359.4L196.0 351.1L202.3 359.4L196.0 367.7Z" fill="#FC9006"/>
<path d="M193.7 359.4L200.0 351.1L206.3 359.4L200.0 367.7Z" fill="#FC9006"/>
<path d="M201.5 359.4L207.8 351.1L214.1 359.4L207.8 367.7Z" fill="#FC9006"/>
<path d="M212.8 359.4L219.1 351.1L225.4 359.4L219.1 367.7Z" fill="#FC9006"/>
<path d="M220.1 359.4L226.4 351.1L232.7 359.4L226.4 367.7Z" fill="#FC9006"/>
<path d="M228.5 359.4L234.8 351.1L241.1 359.4L234.8 367.7Z" fill="#FC9006"/>
<path d="M239.6 359.4L245.9 351.1L252.2 359.4L245.9 367.7Z" fill="#FC9006"/>
<path d="M249.4 359.4L255.7 351.1L262.0 359.4L255.7 367.7Z" fill="#FC9006"/>
<path d="M256.0 359.4L262.3 351.1L268.6 359.4L262.3 367.7Z" fill="#FC9006"/>
<path d="M268.0 359.4L274.3 351.1L280.6 359.4L274.3 367.7Z" fill="#FC9006"/>
<path d="M275.3 359.4L281.6 351.1L287.9 359.4L281.6 367.7Z" fill="#FC9006"/>
<path d="M282.8 359.4L289.1 351.1L295.4 359.4L289.1 367.7Z" fill="#FC9006"/>
<path d="M293.4 359.4L299.7 351.1L306.0 359.4L299.7 367.7Z" fill="#FC9006"/>
<path d="M301.4 359.4L307.7 351.1L314.0 359.4L307.7 367.7Z" fill="#FC9006"/>
<path d="M309.2 359.4L315.5 351.1L321.8 359.4L315.5 367.7Z" fill="#FC9006"/>
<path d="M315.6 359.4L321.9 351.1L328.2 359.4L321.9 367.7Z" fill="#FC9006"/>
<path d="M322.2 359.4L328.5 351.1L334.8 359.4L328.5 367.7Z" fill="#FC9006"/>
<path d="M331.7 359.4L338.0 351.1L344.3 359.4L338.0 367.7Z" fill="#FC9006"/>
<path d="M127.7 344.7L134.0 336.4L140.3 344.7L134.0 353.0Z" fill="#FC9006"/>
<path d="M133.7 344.7L140.0 336.4L146.3 344.7L140.0 353.0Z" fill="#FC9006"/>
<path d="M141.7 344.7L148.0 336.4L154.3 344.7L148.0 353.0Z" fill="#FC9006"/>
<path d="M154.7 344.7L161.0 336.4L167.3 344.7L161.0 353.0Z" fill="#FC9006"/>
<path d="M161.7 344.7L168.0 336.4L174.3 344.7L168.0 353.0Z" fill="#FC9006"/>
<path d="M168.7 344.7L175.0 336.4L181.3 344.7L175.0 353.0Z" fill="#FC9006"/>
<path d="M174.7 344.7L181.0 336.4L187.3 344.7L181.0 353.0Z" fill="#FC9006"/>
<path d="M193.7 344.7L200.0 336.4L206.3 344.7L200.0 353.0Z" fill="#FC9006"/>
<path d="M205.7 344.7L212.0 336.4L218.3 344.7L212.0 353.0Z" fill="#FC9006"/>
<path d="M215.5 344.7L221.8 336.4L228.1 344.7L221.8 353.0Z" fill="#FC9006"/>
<path d="M226.1 344.7L232.4 336.4L238.7 344.7L232.4 353.0Z" fill="#FC9006"/>
<path d="M233.8 344.7L240.1 336.4L246.4 344.7L240.1 353.0Z" fill="#FC9006"/>
<path d="M240.3 344.7L246.6 336.4L252.9 344.7L246.6 353.0Z" fill="#FC9006"/>
<path d="M243.7 344.7L250.0 336.4L256.3 344.7L250.0 353.0Z" fill="#FC9006"/>
<path d="M298.7 344.7L305.0 336.4L311.3 344.7L305.0 353.0Z" fill="#FC9006"/>
<path d="M305.7 344.7L312.0 336.4L318.3 344.7L312.0 353.0Z" fill="#FC9006"/>
<path d="M311.7 344.7L318.0 336.4L324.3 344.7L318.0 353.0Z" fill="#FC9006"/>
<path d="M327.7 344.7L334.0 336.4L340.3 344.7L334.0 353.0Z" fill="#FC9006"/>
<path d="M333.7 344.7L340.0 336.4L346.3 344.7L340.0 353.0Z" fill="#FC9006"/>
<path d="M363.8 344.7L370.1 336.4L376.4 344.7L370.1 353.0Z" fill="#7E2F8E"/>
<path d="M419.7 344.7L426.0 336.4L432.3 344.7L426.0 353.0Z" fill="#70AB2E"/>
<path d="M425.3 344.7L431.6 336.4L437.9 344.7L431.6 353.0Z" fill="#70AB2E"/>
<path d="M430.2 344.7L436.5 336.4L442.8 344.7L436.5 353.0Z" fill="#70AB2E"/>
<path d="M433.0 344.7L439.3 336.4L445.6 344.7L439.3 353.0Z" fill="#70AB2E"/>
<path d="M436.2 344.7L442.5 336.4L448.8 344.7L442.5 353.0Z" fill="#70AB2E"/>
<path d="M438.9 344.7L445.2 336.4L451.5 344.7L445.2 353.0Z" fill="#70AB2E"/>
<path d="M441.5 344.7L447.8 336.4L454.1 344.7L447.8 353.0Z" fill="#70AB2E"/>
<path d="M446.5 344.7L452.8 336.4L459.1 344.7L452.8 353.0Z" fill="#70AB2E"/>
<path d="M449.5 344.7L455.8 336.4L462.1 344.7L455.8 353.0Z" fill="#70AB2E"/>
<path d="M453.8 344.7L460.1 336.4L466.4 344.7L460.1 353.0Z" fill="#70AB2E"/>
<path d="M457.7 344.7L464.0 336.4L470.3 344.7L464.0 353.0Z" fill="#70AB2E"/>
<path d="M460.7 344.7L467.0 336.4L473.3 344.7L467.0 353.0Z" fill="#70AB2E"/>
<path d="M465.5 344.7L471.8 336.4L478.1 344.7L471.8 353.0Z" fill="#70AB2E"/>
<path d="M468.3 344.7L474.6 336.4L480.9 344.7L474.6 353.0Z" fill="#70AB2E"/>
<path d="M472.9 344.7L479.2 336.4L485.5 344.7L479.2 353.0Z" fill="#70AB2E"/>
<path d="M475.6 344.7L481.9 336.4L488.2 344.7L481.9 353.0Z" fill="#70AB2E"/>
<path d="M479.4 344.7L485.7 336.4L492.0 344.7L485.7 353.0Z" fill="#70AB2E"/>
<path d="M482.5 344.7L488.8 336.4L495.1 344.7L488.8 353.0Z" fill="#70AB2E"/>
<path d="M485.8 344.7L492.1 336.4L498.4 344.7L492.1 353.0Z" fill="#70AB2E"/>
<path d="M491.4 344.7L497.7 336.4L504.0 344.7L497.7 353.0Z" fill="#70AB2E"/>
<path d="M493.7 344.7L500.0 336.4L506.3 344.7L500.0 353.0Z" fill="#70AB2E"/>
<path d="M161.7 330.0L168.0 321.7L174.3 330.0L168.0 338.3Z" fill="#FC9006"/>
<path d="M170.3 330.0L176.6 321.7L182.9 330.0L176.6 338.3Z" fill="#FC9006"/>
<path d="M181.4 330.0L187.7 321.7L194.0 330.0L187.7 338.3Z" fill="#FC9006"/>
<path d="M190.5 330.0L196.8 321.7L203.1 330.0L196.8 338.3Z" fill="#FC9006"/>
<path d="M200.4 330.0L206.7 321.7L213.0 330.0L206.7 338.3Z" fill="#FC9006"/>
<path d="M209.4 330.0L215.7 321.7L222.0 330.0L215.7 338.3Z" fill="#FC9006"/>
<path d="M219.3 330.0L225.6 321.7L231.9 330.0L225.6 338.3Z" fill="#FC9006"/>
<path d="M228.1 330.0L234.4 321.7L240.7 330.0L234.4 338.3Z" fill="#FC9006"/>
<path d="M235.7 330.0L242.0 321.7L248.3 330.0L242.0 338.3Z" fill="#FC9006"/>
<path d="M247.7 330.0L254.0 321.7L260.3 330.0L254.0 338.3Z" fill="#FC9006"/>
<path d="M259.7 330.0L266.0 321.7L272.3 330.0L266.0 338.3Z" fill="#FC9006"/>
<path d="M270.7 330.0L277.0 321.7L283.3 330.0L277.0 338.3Z" fill="#FC9006"/>
<path d="M281.0 330.0L287.3 321.7L293.6 330.0L287.3 338.3Z" fill="#FC9006"/>
<path d="M288.9 330.0L295.2 321.7L301.5 330.0L295.2 338.3Z" fill="#FC9006"/>
<path d="M296.3 330.0L302.6 321.7L308.9 330.0L302.6 338.3Z" fill="#FC9006"/>
<path d="M304.0 330.0L310.3 321.7L316.6 330.0L310.3 338.3Z" fill="#FC9006"/>
<path d="M310.4 330.0L316.7 321.7L323.0 330.0L316.7 338.3Z" fill="#FC9006"/>
<path d="M321.0 330.0L327.3 321.7L333.6 330.0L327.3 338.3Z" fill="#FC9006"/>
<path d="M329.4 330.0L335.7 321.7L342.0 330.0L335.7 338.3Z" fill="#FC9006"/>
<path d="M333.7 330.0L340.0 321.7L346.3 330.0L340.0 338.3Z" fill="#FC9006"/>
<path d="M486.7 330.0L493.0 321.7L499.3 330.0L493.0 338.3Z" fill="#0072BD"/>
<path d="M490.4 330.0L496.7 321.7L503.0 330.0L496.7 338.3Z" fill="#0072BD"/>
<path d="M495.9 330.0L502.2 321.7L508.5 330.0L502.2 338.3Z" fill="#0072BD"/>
<path d="M501.1 330.0L507.4 321.7L513.7 330.0L507.4 338.3Z" fill="#0072BD"/>
<path d="M503.5 330.0L509.8 321.7L516.1 330.0L509.8 338.3Z" fill="#0072BD"/>
<path d="M506.6 330.0L512.9 321.7L519.2 330.0L512.9 338.3Z" fill="#0072BD"/>
<path d="M512.0 330.0L518.3 321.7L524.6 330.0L518.3 338.3Z" fill="#0072BD"/>
<path d="M516.0 330.0L522.3 321.7L528.6 330.0L522.3 338.3Z" fill="#0072BD"/>
<path d="M521.6 330.0L527.9 321.7L534.2 330.0L527.9 338.3Z" fill="#0072BD"/>
<path d="M525.3 330.0L531.6 321.7L537.9 330.0L531.6 338.3Z" fill="#0072BD"/>
<path d="M571.7 330.0L578.0 321.7L584.3 330.0L578.0 338.3Z" fill="#7E2F8E"/>
<path d="M580.5 330.0L586.8 321.7L593.1 330.0L586.8 338.3Z" fill="#70AB2E"/>
<path d="M352.6 315.4L358.9 307.1L365.2 315.4L358.9 323.7Z" fill="#7E2F8E"/>
<path d="M428.7 315.4L435.0 307.1L441.3 315.4L435.0 323.7Z" fill="#0072BD"/>
<path d="M432.6 315.4L438.9 307.1L445.2 315.4L438.9 323.7Z" fill="#0072BD"/>
<path d="M436.8 315.4L443.1 307.1L449.4 315.4L443.1 323.7Z" fill="#0072BD"/>
<path d="M442.3 315.4L448.6 307.1L454.9 315.4L448.6 323.7Z" fill="#0072BD"/>
<path d="M443.7 315.4L450.0 307.1L456.3 315.4L450.0 323.7Z" fill="#0072BD"/>
<path d="M459.7 315.4L466.0 307.1L472.3 315.4L466.0 323.7Z" fill="#0072BD"/>
<path d="M463.8 315.4L470.1 307.1L476.4 315.4L470.1 323.7Z" fill="#0072BD"/>
<path d="M468.1 315.4L474.4 307.1L480.7 315.4L474.4 323.7Z" fill="#0072BD"/>
<path d="M471.1 315.4L477.4 307.1L483.7 315.4L477.4 323.7Z" fill="#0072BD"/>
<path d="M475.2 315.4L481.5 307.1L487.8 315.4L481.5 323.7Z" fill="#0072BD"/>
<path d="M479.7 315.4L486.0 307.1L492.3 315.4L486.0 323.7Z" fill="#0072BD"/>
<path d="M484.7 315.4L491.0 307.1L497.3 315.4L491.0 323.7Z" fill="#0072BD"/>
<path d="M487.4 315.4L493.7 307.1L500.0 315.4L493.7 323.7Z" fill="#0072BD"/>
<path d="M490.8 315.4L497.1 307.1L503.4 315.4L497.1 323.7Z" fill="#0072BD"/>
<path d="M493.5 315.4L499.8 307.1L506.1 315.4L499.8 323.7Z" fill="#0072BD"/>
<path d="M498.6 315.4L504.9 307.1L511.2 315.4L504.9 323.7Z" fill="#0072BD"/>
<path d="M503.3 315.4L509.6 307.1L515.9 315.4L509.6 323.7Z" fill="#0072BD"/>
<path d="M505.8 315.4L512.1 307.1L518.4 315.4L512.1 323.7Z" fill="#0072BD"/>
<path d="M507.7 315.4L514.0 307.1L520.3 315.4L514.0 323.7Z" fill="#0072BD"/>
<path d="M521.7 315.4L528.0 307.1L534.3 315.4L528.0 323.7Z" fill="#0072BD"/>
<path d="M527.7 315.4L534.0 307.1L540.3 315.4L534.0 323.7Z" fill="#0072BD"/>
<path d="M532.5 315.4L538.8 307.1L545.1 315.4L538.8 323.7Z" fill="#0072BD"/>
<path d="M534.7 315.4L541.0 307.1L547.3 315.4L541.0 323.7Z" fill="#0072BD"/>
<path d="M552.7 315.4L559.0 307.1L565.3 315.4L559.0 323.7Z" fill="#0072BD"/>
<path d="M615.9 315.4L622.2 307.1L628.5 315.4L622.2 323.7Z" fill="#0072BD"/>
<path d="M647.4 315.4L653.7 307.1L660.0 315.4L653.7 323.7Z" fill="#0072BD"/>
<path d="M662.6 315.4L668.9 307.1L675.2 315.4L668.9 323.7Z" fill="#0072BD"/>
<path d="M689.7 315.4L696.0 307.1L702.3 315.4L696.0 323.7Z" fill="#0072BD"/>
<path d="M692.6 315.4L698.9 307.1L705.2 315.4L698.9 323.7Z" fill="#0072BD"/>
<path d="M695.1 315.4L701.4 307.1L707.7 315.4L701.4 323.7Z" fill="#0072BD"/>
<path d="M699.2 315.4L705.5 307.1L711.8 315.4L705.5 323.7Z" fill="#0072BD"/>
<path d="M701.8 315.4L708.1 307.1L714.4 315.4L708.1 323.7Z" fill="#0072BD"/>
<path d="M704.8 315.4L711.1 307.1L717.4 315.4L711.1 323.7Z" fill="#0072BD"/>
<path d="M708.0 315.4L714.3 307.1L720.6 315.4L714.3 323.7Z" fill="#0072BD"/>
<path d="M710.5 315.4L716.8 307.1L723.1 315.4L716.8 323.7Z" fill="#0072BD"/>
<path d="M713.7 315.4L720.0 307.1L726.3 315.4L720.0 323.7Z" fill="#0072BD"/>
<path d="M724.5 315.4L730.8 307.1L737.1 315.4L730.8 323.7Z" fill="#0072BD"/>
<path d="M115.7 300.7L122.0 292.4L128.3 300.7L122.0 309.0Z" fill="#FC9006"/>
<path d="M119.7 300.7L126.0 292.4L132.3 300.7L126.0 309.0Z" fill="#FC9006"/>
<path d="M123.7 300.7L130.0 292.4L136.3 300.7L130.0 309.0Z" fill="#FC9006"/>
<path d="M127.7 300.7L134.0 292.4L140.3 300.7L134.0 309.0Z" fill="#FC9006"/>
<path d="M707.0 286.0L713.3 277.7L719.6 286.0L713.3 294.3Z" fill="#7E2F8E"/>
<path d="M77.2 564.9L83.5 556.6L89.8 564.9L83.5 573.2Z" fill="#FC9006"/>
<path d="M79.3 564.9L83.5 559.4L87.7 564.9L83.5 570.5Z" fill="#FFFF00"/>
<path d="M152.9 550.2L159.2 541.9L165.5 550.2L159.2 558.5Z" fill="#FC9006"/>
<path d="M155.0 550.2L159.2 544.7L163.4 550.2L159.2 555.8Z" fill="#FFFF00"/>
<path d="M194.7 550.2L201.0 541.9L207.3 550.2L201.0 558.5Z" fill="#FC9006"/>
<path d="M196.8 550.2L201.0 544.7L205.2 550.2L201.0 555.8Z" fill="#FFFF00"/>
<path d="M196.7 550.2L203.0 541.9L209.3 550.2L203.0 558.5Z" fill="#FC9006"/>
<path d="M198.8 550.2L203.0 544.7L207.2 550.2L203.0 555.8Z" fill="#FFFF00"/>
<path d="M239.7 535.6L246.0 527.3L252.3 535.6L246.0 543.9Z" fill="#FC9006"/>
<path d="M241.8 535.6L246.0 530.0L250.2 535.6L246.0 541.1Z" fill="#FFFF00"/>
<path d="M295.7 535.6L302.0 527.3L308.3 535.6L302.0 543.9Z" fill="#FC9006"/>
<path d="M297.8 535.6L302.0 530.0L306.2 535.6L302.0 541.1Z" fill="#FFFF00"/>
<path d="M63.7 520.9L70.0 512.6L76.3 520.9L70.0 529.2Z" fill="#FC9006"/>
<path d="M65.8 520.9L70.0 515.3L74.2 520.9L70.0 526.4Z" fill="#FFFF00"/>
<path d="M66.1 520.9L72.4 512.6L78.7 520.9L72.4 529.2Z" fill="#FC9006"/>
<path d="M68.2 520.9L72.4 515.3L76.6 520.9L72.4 526.4Z" fill="#FFFF00"/>
<path d="M68.7 520.9L75.0 512.6L81.3 520.9L75.0 529.2Z" fill="#FC9006"/>
<path d="M70.8 520.9L75.0 515.3L79.2 520.9L75.0 526.4Z" fill="#FFFF00"/>
<path d="M75.4 520.9L81.7 512.6L88.0 520.9L81.7 529.2Z" fill="#FC9006"/>
<path d="M77.5 520.9L81.7 515.3L85.9 520.9L81.7 526.4Z" fill="#FFFF00"/>
<path d="M85.7 520.9L92.0 512.6L98.3 520.9L92.0 529.2Z" fill="#FC9006"/>
<path d="M87.8 520.9L92.0 515.3L96.2 520.9L92.0 526.4Z" fill="#FFFF00"/>
<path d="M129.7 520.9L136.0 512.6L142.3 520.9L136.0 529.2Z" fill="#FC9006"/>
<path d="M131.8 520.9L136.0 515.3L140.2 520.9L136.0 526.4Z" fill="#FFFF00"/>
<path d="M133.7 520.9L140.0 512.6L146.3 520.9L140.0 529.2Z" fill="#FC9006"/>
<path d="M135.8 520.9L140.0 515.3L144.2 520.9L140.0 526.4Z" fill="#FFFF00"/>
<path d="M136.1 520.9L142.4 512.6L148.7 520.9L142.4 529.2Z" fill="#FC9006"/>
<path d="M138.2 520.9L142.4 515.3L146.6 520.9L142.4 526.4Z" fill="#FFFF00"/>
<path d="M142.7 520.9L149.0 512.6L155.3 520.9L149.0 529.2Z" fill="#FC9006"/>
<path d="M144.8 520.9L149.0 515.3L153.2 520.9L149.0 526.4Z" fill="#FFFF00"/>
<path d="M148.7 520.9L155.0 512.6L161.3 520.9L155.0 529.2Z" fill="#FC9006"/>
<path d="M150.8 520.9L155.0 515.3L159.2 520.9L155.0 526.4Z" fill="#FFFF00"/>
<path d="M151.0 520.9L157.3 512.6L163.6 520.9L157.3 529.2Z" fill="#FC9006"/>
<path d="M153.1 520.9L157.3 515.3L161.5 520.9L157.3 526.4Z" fill="#FFFF00"/>
<path d="M156.7 520.9L163.0 512.6L169.3 520.9L163.0 529.2Z" fill="#FC9006"/>
<path d="M158.8 520.9L163.0 515.3L167.2 520.9L163.0 526.4Z" fill="#FFFF00"/>
<path d="M185.6 520.9L191.9 512.6L198.2 520.9L191.9 529.2Z" fill="#FC9006"/>
<path d="M187.7 520.9L191.9 515.3L196.1 520.9L191.9 526.4Z" fill="#FFFF00"/>
<path d="M195.7 520.9L202.0 512.6L208.3 520.9L202.0 529.2Z" fill="#FC9006"/>
<path d="M197.8 520.9L202.0 515.3L206.2 520.9L202.0 526.4Z" fill="#FFFF00"/>
<path d="M196.7 520.9L203.0 512.6L209.3 520.9L203.0 529.2Z" fill="#FC9006"/>
<path d="M198.8 520.9L203.0 515.3L207.2 520.9L203.0 526.4Z" fill="#FFFF00"/>
<path d="M206.7 520.9L213.0 512.6L219.3 520.9L213.0 529.2Z" fill="#FC9006"/>
<path d="M208.8 520.9L213.0 515.3L217.2 520.9L213.0 526.4Z" fill="#FFFF00"/>
<path d="M212.7 520.9L219.0 512.6L225.3 520.9L219.0 529.2Z" fill="#FC9006"/>
<path d="M214.8 520.9L219.0 515.3L223.2 520.9L219.0 526.4Z" fill="#FFFF00"/>
<path d="M214.7 520.9L221.0 512.6L227.3 520.9L221.0 529.2Z" fill="#FC9006"/>
<path d="M216.8 520.9L221.0 515.3L225.2 520.9L221.0 526.4Z" fill="#FFFF00"/>
<path d="M219.7 520.9L226.0 512.6L232.3 520.9L226.0 529.2Z" fill="#FC9006"/>
<path d="M221.8 520.9L226.0 515.3L230.2 520.9L226.0 526.4Z" fill="#FFFF00"/>
<path d="M226.7 520.9L233.0 512.6L239.3 520.9L233.0 529.2Z" fill="#FC9006"/>
<path d="M228.8 520.9L233.0 515.3L237.2 520.9L233.0 526.4Z" fill="#FFFF00"/>
<path d="M233.7 520.9L240.0 512.6L246.3 520.9L240.0 529.2Z" fill="#FC9006"/>
<path d="M235.8 520.9L240.0 515.3L244.2 520.9L240.0 526.4Z" fill="#FFFF00"/>
<path d="M235.7 520.9L242.0 512.6L248.3 520.9L242.0 529.2Z" fill="#FC9006"/>
<path d="M237.8 520.9L242.0 515.3L246.2 520.9L242.0 526.4Z" fill="#FFFF00"/>
<path d="M240.7 520.9L247.0 512.6L253.3 520.9L247.0 529.2Z" fill="#FC9006"/>
<path d="M242.8 520.9L247.0 515.3L251.2 520.9L247.0 526.4Z" fill="#FFFF00"/>
<path d="M248.7 520.9L255.0 512.6L261.3 520.9L255.0 529.2Z" fill="#FC9006"/>
<path d="M250.8 520.9L255.0 515.3L259.2 520.9L255.0 526.4Z" fill="#FFFF00"/>
<path d="M266.7 520.9L273.0 512.6L279.3 520.9L273.0 529.2Z" fill="#FC9006"/>
<path d="M268.8 520.9L273.0 515.3L277.2 520.9L273.0 526.4Z" fill="#FFFF00"/>
<path d="M278.7 520.9L285.0 512.6L291.3 520.9L285.0 529.2Z" fill="#FC9006"/>
<path d="M280.8 520.9L285.0 515.3L289.2 520.9L285.0 526.4Z" fill="#FFFF00"/>
<path d="M297.7 520.9L304.0 512.6L310.3 520.9L304.0 529.2Z" fill="#FC9006"/>
<path d="M299.8 520.9L304.0 515.3L308.2 520.9L304.0 526.4Z" fill="#FFFF00"/>
<path d="M321.7 520.9L328.0 512.6L334.3 520.9L328.0 529.2Z" fill="#FC9006"/>
<path d="M323.8 520.9L328.0 515.3L332.2 520.9L328.0 526.4Z" fill="#FFFF00"/>
<path d="M323.7 520.9L330.0 512.6L336.3 520.9L330.0 529.2Z" fill="#FC9006"/>
<path d="M325.8 520.9L330.0 515.3L334.2 520.9L330.0 526.4Z" fill="#FFFF00"/>
<path d="M333.7 520.9L340.0 512.6L346.3 520.9L340.0 529.2Z" fill="#FC9006"/>
<path d="M335.8 520.9L340.0 515.3L344.2 520.9L340.0 526.4Z" fill="#FFFF00"/>
<path d="M95.0 506.2L101.3 497.9L107.6 506.2L101.3 514.5Z" fill="#FC9006"/>
<path d="M97.1 506.2L101.3 500.6L105.5 506.2L101.3 511.8Z" fill="#FFFF00"/>
<path d="M176.7 506.2L183.0 497.9L189.3 506.2L183.0 514.5Z" fill="#FC9006"/>
<path d="M178.8 506.2L183.0 500.6L187.2 506.2L183.0 511.8Z" fill="#FFFF00"/>
<path d="M180.7 506.2L187.0 497.9L193.3 506.2L187.0 514.5Z" fill="#FC9006"/>
<path d="M182.8 506.2L187.0 500.6L191.2 506.2L187.0 511.8Z" fill="#FFFF00"/>
<path d="M186.5 506.2L192.8 497.9L199.1 506.2L192.8 514.5Z" fill="#FC9006"/>
<path d="M188.6 506.2L192.8 500.6L197.0 506.2L192.8 511.8Z" fill="#FFFF00"/>
<path d="M193.7 506.2L200.0 497.9L206.3 506.2L200.0 514.5Z" fill="#FC9006"/>
<path d="M195.8 506.2L200.0 500.6L204.2 506.2L200.0 511.8Z" fill="#FFFF00"/>
<path d="M194.7 506.2L201.0 497.9L207.3 506.2L201.0 514.5Z" fill="#FC9006"/>
<path d="M196.8 506.2L201.0 500.6L205.2 506.2L201.0 511.8Z" fill="#FFFF00"/>
<path d="M218.7 506.2L225.0 497.9L231.3 506.2L225.0 514.5Z" fill="#FC9006"/>
<path d="M220.8 506.2L225.0 500.6L229.2 506.2L225.0 511.8Z" fill="#FFFF00"/>
<path d="M257.7 506.2L264.0 497.9L270.3 506.2L264.0 514.5Z" fill="#FC9006"/>
<path d="M259.8 506.2L264.0 500.6L268.2 506.2L264.0 511.8Z" fill="#FFFF00"/>
<path d="M266.7 506.2L273.0 497.9L279.3 506.2L273.0 514.5Z" fill="#FC9006"/>
<path d="M268.8 506.2L273.0 500.6L277.2 506.2L273.0 511.8Z" fill="#FFFF00"/>
<path d="M277.7 506.2L284.0 497.9L290.3 506.2L284.0 514.5Z" fill="#FC9006"/>
<path d="M279.8 506.2L284.0 500.6L288.2 506.2L284.0 511.8Z" fill="#FFFF00"/>
<path d="M333.7 506.2L340.0 497.9L346.3 506.2L340.0 514.5Z" fill="#FC9006"/>
<path d="M335.8 506.2L340.0 500.6L344.2 506.2L340.0 511.8Z" fill="#FFFF00"/>
<path d="M247.7 491.5L254.0 483.2L260.3 491.5L254.0 499.8Z" fill="#FC9006"/>
<path d="M249.8 491.5L254.0 486.0L258.2 491.5L254.0 497.1Z" fill="#FFFF00"/>
<path d="M259.7 491.5L266.0 483.2L272.3 491.5L266.0 499.8Z" fill="#FC9006"/>
<path d="M261.8 491.5L266.0 486.0L270.2 491.5L266.0 497.1Z" fill="#FFFF00"/>
<path d="M265.7 491.5L272.0 483.2L278.3 491.5L272.0 499.8Z" fill="#FC9006"/>
<path d="M267.8 491.5L272.0 486.0L276.2 491.5L272.0 497.1Z" fill="#FFFF00"/>
<path d="M337.1 476.8L343.4 468.5L349.7 476.8L343.4 485.1Z" fill="#FC9006"/>
<path d="M339.2 476.8L343.4 471.3L347.6 476.8L343.4 482.4Z" fill="#FFFF00"/>
<path d="M338.3 462.2L344.6 453.9L350.9 462.2L344.6 470.5Z" fill="#FC9006"/>
<path d="M340.4 462.2L344.6 456.6L348.8 462.2L344.6 467.7Z" fill="#FFFF00"/>
<path d="M337.1 447.5L343.4 439.2L349.7 447.5L343.4 455.8Z" fill="#FC9006"/>
<path d="M339.2 447.5L343.4 441.9L347.6 447.5L343.4 453.0Z" fill="#FFFF00"/>
<path d="M113.7 432.8L120.0 424.5L126.3 432.8L120.0 441.1Z" fill="#FC9006"/>
<path d="M115.8 432.8L120.0 427.2L124.2 432.8L120.0 438.4Z" fill="#FFFF00"/>
<path d="M121.2 432.8L127.5 424.5L133.8 432.8L127.5 441.1Z" fill="#FC9006"/>
<path d="M123.3 432.8L127.5 427.2L131.7 432.8L127.5 438.4Z" fill="#FFFF00"/>
<path d="M124.7 432.8L131.0 424.5L137.3 432.8L131.0 441.1Z" fill="#FC9006"/>
<path d="M126.8 432.8L131.0 427.2L135.2 432.8L131.0 438.4Z" fill="#FFFF00"/>
<path d="M182.7 432.8L189.0 424.5L195.3 432.8L189.0 441.1Z" fill="#FC9006"/>
<path d="M184.8 432.8L189.0 427.2L193.2 432.8L189.0 438.4Z" fill="#FFFF00"/>
<path d="M202.7 432.8L209.0 424.5L215.3 432.8L209.0 441.1Z" fill="#FC9006"/>
<path d="M204.8 432.8L209.0 427.2L213.2 432.8L209.0 438.4Z" fill="#FFFF00"/>
<path d="M340.7 432.8L347.0 424.5L353.3 432.8L347.0 441.1Z" fill="#FC9006"/>
<path d="M342.8 432.8L347.0 427.2L351.2 432.8L347.0 438.4Z" fill="#FFFF00"/>
<path d="M68.0 418.1L74.3 409.8L80.6 418.1L74.3 426.4Z" fill="#FC9006"/>
<path d="M70.1 418.1L74.3 412.6L78.5 418.1L74.3 423.7Z" fill="#FFFF00"/>
<path d="M76.4 418.1L82.7 409.8L89.0 418.1L82.7 426.4Z" fill="#FC9006"/>
<path d="M78.5 418.1L82.7 412.6L86.9 418.1L82.7 423.7Z" fill="#FFFF00"/>
<path d="M111.7 418.1L118.0 409.8L124.3 418.1L118.0 426.4Z" fill="#FC9006"/>
<path d="M113.8 418.1L118.0 412.6L122.2 418.1L118.0 423.7Z" fill="#FFFF00"/>
<path d="M154.7 418.1L161.0 409.8L167.3 418.1L161.0 426.4Z" fill="#FC9006"/>
<path d="M156.8 418.1L161.0 412.6L165.2 418.1L161.0 423.7Z" fill="#FFFF00"/>
<path d="M169.7 418.1L176.0 409.8L182.3 418.1L176.0 426.4Z" fill="#FC9006"/>
<path d="M171.8 418.1L176.0 412.6L180.2 418.1L176.0 423.7Z" fill="#FFFF00"/>
<path d="M239.7 418.1L246.0 409.8L252.3 418.1L246.0 426.4Z" fill="#FC9006"/>
<path d="M241.8 418.1L246.0 412.6L250.2 418.1L246.0 423.7Z" fill="#FFFF00"/>
<path d="M299.7 418.1L306.0 409.8L312.3 418.1L306.0 426.4Z" fill="#FC9006"/>
<path d="M301.8 418.1L306.0 412.6L310.2 418.1L306.0 423.7Z" fill="#FFFF00"/>
<path d="M321.7 418.1L328.0 409.8L334.3 418.1L328.0 426.4Z" fill="#FC9006"/>
<path d="M323.8 418.1L328.0 412.6L332.2 418.1L328.0 423.7Z" fill="#FFFF00"/>
<path d="M329.7 418.1L336.0 409.8L342.3 418.1L336.0 426.4Z" fill="#FC9006"/>
<path d="M331.8 418.1L336.0 412.6L340.2 418.1L336.0 423.7Z" fill="#FFFF00"/>
<path d="M339.7 418.1L346.0 409.8L352.3 418.1L346.0 426.4Z" fill="#FC9006"/>
<path d="M341.8 418.1L346.0 412.6L350.2 418.1L346.0 423.7Z" fill="#FFFF00"/>
<path d="M124.0 403.4L130.3 395.1L136.6 403.4L130.3 411.7Z" fill="#FC9006"/>
<path d="M126.1 403.4L130.3 397.9L134.5 403.4L130.3 409.0Z" fill="#FFFF00"/>
<path d="M156.7 403.4L163.0 395.1L169.3 403.4L163.0 411.7Z" fill="#FC9006"/>
<path d="M158.8 403.4L163.0 397.9L167.2 403.4L163.0 409.0Z" fill="#FFFF00"/>
<path d="M166.0 403.4L172.3 395.1L178.6 403.4L172.3 411.7Z" fill="#FC9006"/>
<path d="M168.1 403.4L172.3 397.9L176.5 403.4L172.3 409.0Z" fill="#FFFF00"/>
<path d="M182.7 403.4L189.0 395.1L195.3 403.4L189.0 411.7Z" fill="#FC9006"/>
<path d="M184.8 403.4L189.0 397.9L193.2 403.4L189.0 409.0Z" fill="#FFFF00"/>
<path d="M195.7 403.4L202.0 395.1L208.3 403.4L202.0 411.7Z" fill="#FC9006"/>
<path d="M197.8 403.4L202.0 397.9L206.2 403.4L202.0 409.0Z" fill="#FFFF00"/>
<path d="M212.7 403.4L219.0 395.1L225.3 403.4L219.0 411.7Z" fill="#FC9006"/>
<path d="M214.8 403.4L219.0 397.9L223.2 403.4L219.0 409.0Z" fill="#FFFF00"/>
<path d="M224.7 403.4L231.0 395.1L237.3 403.4L231.0 411.7Z" fill="#FC9006"/>
<path d="M226.8 403.4L231.0 397.9L235.2 403.4L231.0 409.0Z" fill="#FFFF00"/>
<path d="M236.7 403.4L243.0 395.1L249.3 403.4L243.0 411.7Z" fill="#FC9006"/>
<path d="M238.8 403.4L243.0 397.9L247.2 403.4L243.0 409.0Z" fill="#FFFF00"/>
<path d="M242.7 403.4L249.0 395.1L255.3 403.4L249.0 411.7Z" fill="#FC9006"/>
<path d="M244.8 403.4L249.0 397.9L253.2 403.4L249.0 409.0Z" fill="#FFFF00"/>
<path d="M252.7 403.4L259.0 395.1L265.3 403.4L259.0 411.7Z" fill="#FC9006"/>
<path d="M254.8 403.4L259.0 397.9L263.2 403.4L259.0 409.0Z" fill="#FFFF00"/>
<path d="M263.7 403.4L270.0 395.1L276.3 403.4L270.0 411.7Z" fill="#FC9006"/>
<path d="M265.8 403.4L270.0 397.9L274.2 403.4L270.0 409.0Z" fill="#FFFF00"/>
<path d="M289.7 403.4L296.0 395.1L302.3 403.4L296.0 411.7Z" fill="#FC9006"/>
<path d="M291.8 403.4L296.0 397.9L300.2 403.4L296.0 409.0Z" fill="#FFFF00"/>
<path d="M305.7 403.4L312.0 395.1L318.3 403.4L312.0 411.7Z" fill="#FC9006"/>
<path d="M307.8 403.4L312.0 397.9L316.2 403.4L312.0 409.0Z" fill="#FFFF00"/>
<path d="M309.7 403.4L316.0 395.1L322.3 403.4L316.0 411.7Z" fill="#FC9006"/>
<path d="M311.8 403.4L316.0 397.9L320.2 403.4L316.0 409.0Z" fill="#FFFF00"/>
<path d="M317.7 403.4L324.0 395.1L330.3 403.4L324.0 411.7Z" fill="#FC9006"/>
<path d="M319.8 403.4L324.0 397.9L328.2 403.4L324.0 409.0Z" fill="#FFFF00"/>
<path d="M323.7 403.4L330.0 395.1L336.3 403.4L330.0 411.7Z" fill="#FC9006"/>
<path d="M325.8 403.4L330.0 397.9L334.2 403.4L330.0 409.0Z" fill="#FFFF00"/>
<path d="M331.7 403.4L338.0 395.1L344.3 403.4L338.0 411.7Z" fill="#FC9006"/>
<path d="M333.8 403.4L338.0 397.9L342.2 403.4L338.0 409.0Z" fill="#FFFF00"/>
<path d="M340.7 403.4L347.0 395.1L353.3 403.4L347.0 411.7Z" fill="#FC9006"/>
<path d="M342.8 403.4L347.0 397.9L351.2 403.4L347.0 409.0Z" fill="#FFFF00"/>
<path d="M124.9 388.8L131.2 380.5L137.5 388.8L131.2 397.1Z" fill="#FC9006"/>
<path d="M127.0 388.8L131.2 383.2L135.4 388.8L131.2 394.3Z" fill="#FFFF00"/>
<path d="M143.6 388.8L149.9 380.5L156.2 388.8L149.9 397.1Z" fill="#FC9006"/>
<path d="M145.7 388.8L149.9 383.2L154.1 388.8L149.9 394.3Z" fill="#FFFF00"/>
<path d="M156.7 388.8L163.0 380.5L169.3 388.8L163.0 397.1Z" fill="#FC9006"/>
<path d="M158.8 388.8L163.0 383.2L167.2 388.8L163.0 394.3Z" fill="#FFFF00"/>
<path d="M164.1 388.8L170.4 380.5L176.7 388.8L170.4 397.1Z" fill="#FC9006"/>
<path d="M166.2 388.8L170.4 383.2L174.6 388.8L170.4 394.3Z" fill="#FFFF00"/>
<path d="M169.7 388.8L176.0 380.5L182.3 388.8L176.0 397.1Z" fill="#FC9006"/>
<path d="M171.8 388.8L176.0 383.2L180.2 388.8L176.0 394.3Z" fill="#FFFF00"/>
<path d="M186.5 388.8L192.8 380.5L199.1 388.8L192.8 397.1Z" fill="#FC9006"/>
<path d="M188.6 388.8L192.8 383.2L197.0 388.8L192.8 394.3Z" fill="#FFFF00"/>
<path d="M195.8 388.8L202.1 380.5L208.4 388.8L202.1 397.1Z" fill="#FC9006"/>
<path d="M197.9 388.8L202.1 383.2L206.3 388.8L202.1 394.3Z" fill="#FFFF00"/>
<path d="M196.7 388.8L203.0 380.5L209.3 388.8L203.0 397.1Z" fill="#FC9006"/>
<path d="M198.8 388.8L203.0 383.2L207.2 388.8L203.0 394.3Z" fill="#FFFF00"/>
<path d="M207.7 388.8L214.0 380.5L220.3 388.8L214.0 397.1Z" fill="#FC9006"/>
<path d="M209.8 388.8L214.0 383.2L218.2 388.8L214.0 394.3Z" fill="#FFFF00"/>
<path d="M226.7 388.8L233.0 380.5L239.3 388.8L233.0 397.1Z" fill="#FC9006"/>
<path d="M228.8 388.8L233.0 383.2L237.2 388.8L233.0 394.3Z" fill="#FFFF00"/>
<path d="M235.7 388.8L242.0 380.5L248.3 388.8L242.0 397.1Z" fill="#FC9006"/>
<path d="M237.8 388.8L242.0 383.2L246.2 388.8L242.0 394.3Z" fill="#FFFF00"/>
<path d="M250.7 388.8L257.0 380.5L263.3 388.8L257.0 397.1Z" fill="#FC9006"/>
<path d="M252.8 388.8L257.0 383.2L261.2 388.8L257.0 394.3Z" fill="#FFFF00"/>
<path d="M277.7 388.8L284.0 380.5L290.3 388.8L284.0 397.1Z" fill="#FC9006"/>
<path d="M279.8 388.8L284.0 383.2L288.2 388.8L284.0 394.3Z" fill="#FFFF00"/>
<path d="M293.7 388.8L300.0 380.5L306.3 388.8L300.0 397.1Z" fill="#FC9006"/>
<path d="M295.8 388.8L300.0 383.2L304.2 388.8L300.0 394.3Z" fill="#FFFF00"/>
<path d="M304.7 388.8L311.0 380.5L317.3 388.8L311.0 397.1Z" fill="#FC9006"/>
<path d="M306.8 388.8L311.0 383.2L315.2 388.8L311.0 394.3Z" fill="#FFFF00"/>
<path d="M331.7 388.8L338.0 380.5L344.3 388.8L338.0 397.1Z" fill="#FC9006"/>
<path d="M333.8 388.8L338.0 383.2L342.2 388.8L338.0 394.3Z" fill="#FFFF00"/>
<path d="M206.7 374.1L213.0 365.8L219.3 374.1L213.0 382.4Z" fill="#FC9006"/>
<path d="M208.8 374.1L213.0 368.5L217.2 374.1L213.0 379.6Z" fill="#FFFF00"/>
<path d="M253.7 374.1L260.0 365.8L266.3 374.1L260.0 382.4Z" fill="#FC9006"/>
<path d="M255.8 374.1L260.0 368.5L264.2 374.1L260.0 379.6Z" fill="#FFFF00"/>
<path d="M340.7 374.1L347.0 365.8L353.3 374.1L347.0 382.4Z" fill="#FC9006"/>
<path d="M342.8 374.1L347.0 368.5L351.2 374.1L347.0 379.6Z" fill="#FFFF00"/>
<path d="M67.7 359.4L74.0 351.1L80.3 359.4L74.0 367.7Z" fill="#FC9006"/>
<path d="M69.8 359.4L74.0 353.8L78.2 359.4L74.0 365.0Z" fill="#FFFF00"/>
<path d="M73.7 359.4L80.0 351.1L86.3 359.4L80.0 367.7Z" fill="#FC9006"/>
<path d="M75.8 359.4L80.0 353.8L84.2 359.4L80.0 365.0Z" fill="#FFFF00"/>
<path d="M81.7 359.4L88.0 351.1L94.3 359.4L88.0 367.7Z" fill="#FC9006"/>
<path d="M83.8 359.4L88.0 353.8L92.2 359.4L88.0 365.0Z" fill="#FFFF00"/>
<path d="M87.7 359.4L94.0 351.1L100.3 359.4L94.0 367.7Z" fill="#FC9006"/>
<path d="M89.8 359.4L94.0 353.8L98.2 359.4L94.0 365.0Z" fill="#FFFF00"/>
<path d="M96.7 359.4L103.0 351.1L109.3 359.4L103.0 367.7Z" fill="#FC9006"/>
<path d="M98.8 359.4L103.0 353.8L107.2 359.4L103.0 365.0Z" fill="#FFFF00"/>
<path d="M126.7 359.4L133.0 351.1L139.3 359.4L133.0 367.7Z" fill="#FC9006"/>
<path d="M128.8 359.4L133.0 353.8L137.2 359.4L133.0 365.0Z" fill="#FFFF00"/>
<path d="M143.6 359.4L149.9 351.1L156.2 359.4L149.9 367.7Z" fill="#FC9006"/>
<path d="M145.7 359.4L149.9 353.8L154.1 359.4L149.9 365.0Z" fill="#FFFF00"/>
<path d="M150.4 359.4L156.7 351.1L163.0 359.4L156.7 367.7Z" fill="#FC9006"/>
<path d="M152.5 359.4L156.7 353.8L160.9 359.4L156.7 365.0Z" fill="#FFFF00"/>
<path d="M166.0 359.4L172.3 351.1L178.6 359.4L172.3 367.7Z" fill="#FC9006"/>
<path d="M168.1 359.4L172.3 353.8L176.5 359.4L172.3 365.0Z" fill="#FFFF00"/>
<path d="M181.7 359.4L188.0 351.1L194.3 359.4L188.0 367.7Z" fill="#FC9006"/>
<path d="M183.8 359.4L188.0 353.8L192.2 359.4L188.0 365.0Z" fill="#FFFF00"/>
<path d="M198.4 359.4L204.7 351.1L211.0 359.4L204.7 367.7Z" fill="#FC9006"/>
<path d="M200.5 359.4L204.7 353.8L208.9 359.4L204.7 365.0Z" fill="#FFFF00"/>
<path d="M209.0 359.4L215.3 351.1L221.6 359.4L215.3 367.7Z" fill="#FC9006"/>
<path d="M211.1 359.4L215.3 353.8L219.5 359.4L215.3 365.0Z" fill="#FFFF00"/>
<path d="M267.7 359.4L274.0 351.1L280.3 359.4L274.0 367.7Z" fill="#FC9006"/>
<path d="M269.8 359.4L274.0 353.8L278.2 359.4L274.0 365.0Z" fill="#FFFF00"/>
<path d="M277.7 359.4L284.0 351.1L290.3 359.4L284.0 367.7Z" fill="#FC9006"/>
<path d="M279.8 359.4L284.0 353.8L288.2 359.4L284.0 365.0Z" fill="#FFFF00"/>
<path d="M292.7 359.4L299.0 351.1L305.3 359.4L299.0 367.7Z" fill="#FC9006"/>
<path d="M294.8 359.4L299.0 353.8L303.2 359.4L299.0 365.0Z" fill="#FFFF00"/>
<path d="M339.7 359.4L346.0 351.1L352.3 359.4L346.0 367.7Z" fill="#FC9006"/>
<path d="M341.8 359.4L346.0 353.8L350.2 359.4L346.0 365.0Z" fill="#FFFF00"/>
<path d="M180.7 344.7L187.0 336.4L193.3 344.7L187.0 353.0Z" fill="#FC9006"/>
<path d="M182.8 344.7L187.0 339.2L191.2 344.7L187.0 350.3Z" fill="#FFFF00"/>
<path d="M340.7 344.7L347.0 336.4L353.3 344.7L347.0 353.0Z" fill="#FC9006"/>
<path d="M342.8 344.7L347.0 339.2L351.2 344.7L347.0 350.3Z" fill="#FFFF00"/>
<path d="M156.4 330.0L162.7 321.7L169.0 330.0L162.7 338.3Z" fill="#FC9006"/>
<path d="M158.5 330.0L162.7 324.5L166.9 330.0L162.7 335.6Z" fill="#FFFF00"/>
<path d="M170.4 330.0L176.7 321.7L183.0 330.0L176.7 338.3Z" fill="#FC9006"/>
<path d="M172.5 330.0L176.7 324.5L180.9 330.0L176.7 335.6Z" fill="#FFFF00"/>
<path d="M179.7 330.0L186.0 321.7L192.3 330.0L186.0 338.3Z" fill="#FC9006"/>
<path d="M181.8 330.0L186.0 324.5L190.2 330.0L186.0 335.6Z" fill="#FFFF00"/>
<path d="M181.7 330.0L188.0 321.7L194.3 330.0L188.0 338.3Z" fill="#FC9006"/>
<path d="M183.8 330.0L188.0 324.5L192.2 330.0L188.0 335.6Z" fill="#FFFF00"/>
<path d="M186.7 330.0L193.0 321.7L199.3 330.0L193.0 338.3Z" fill="#FC9006"/>
<path d="M188.8 330.0L193.0 324.5L197.2 330.0L193.0 335.6Z" fill="#FFFF00"/>
<path d="M188.7 330.0L195.0 321.7L201.3 330.0L195.0 338.3Z" fill="#FC9006"/>
<path d="M190.8 330.0L195.0 324.5L199.2 330.0L195.0 335.6Z" fill="#FFFF00"/>
<path d="M198.4 330.0L204.7 321.7L211.0 330.0L204.7 338.3Z" fill="#FC9006"/>
<path d="M200.5 330.0L204.7 324.5L208.9 330.0L204.7 335.6Z" fill="#FFFF00"/>
<path d="M209.7 330.0L216.0 321.7L222.3 330.0L216.0 338.3Z" fill="#FC9006"/>
<path d="M211.8 330.0L216.0 324.5L220.2 330.0L216.0 335.6Z" fill="#FFFF00"/>
<path d="M212.4 330.0L218.7 321.7L225.0 330.0L218.7 338.3Z" fill="#FC9006"/>
<path d="M214.5 330.0L218.7 324.5L222.9 330.0L218.7 335.6Z" fill="#FFFF00"/>
<path d="M233.7 330.0L240.0 321.7L246.3 330.0L240.0 338.3Z" fill="#FC9006"/>
<path d="M235.8 330.0L240.0 324.5L244.2 330.0L240.0 335.6Z" fill="#FFFF00"/>
<path d="M235.7 330.0L242.0 321.7L248.3 330.0L242.0 338.3Z" fill="#FC9006"/>
<path d="M237.8 330.0L242.0 324.5L246.2 330.0L242.0 335.6Z" fill="#FFFF00"/>
<path d="M239.7 330.0L246.0 321.7L252.3 330.0L246.0 338.3Z" fill="#FC9006"/>
<path d="M241.8 330.0L246.0 324.5L250.2 330.0L246.0 335.6Z" fill="#FFFF00"/>
<path d="M251.7 330.0L258.0 321.7L264.3 330.0L258.0 338.3Z" fill="#FC9006"/>
<path d="M253.8 330.0L258.0 324.5L262.2 330.0L258.0 335.6Z" fill="#FFFF00"/>
<path d="M254.7 330.0L261.0 321.7L267.3 330.0L261.0 338.3Z" fill="#FC9006"/>
<path d="M256.8 330.0L261.0 324.5L265.2 330.0L261.0 335.6Z" fill="#FFFF00"/>
<path d="M257.7 330.0L264.0 321.7L270.3 330.0L264.0 338.3Z" fill="#FC9006"/>
<path d="M259.8 330.0L264.0 324.5L268.2 330.0L264.0 335.6Z" fill="#FFFF00"/>
<path d="M261.7 330.0L268.0 321.7L274.3 330.0L268.0 338.3Z" fill="#FC9006"/>
<path d="M263.8 330.0L268.0 324.5L272.2 330.0L268.0 335.6Z" fill="#FFFF00"/>
<path d="M268.7 330.0L275.0 321.7L281.3 330.0L275.0 338.3Z" fill="#FC9006"/>
<path d="M270.8 330.0L275.0 324.5L279.2 330.0L275.0 335.6Z" fill="#FFFF00"/>
<path d="M280.7 330.0L287.0 321.7L293.3 330.0L287.0 338.3Z" fill="#FC9006"/>
<path d="M282.8 330.0L287.0 324.5L291.2 330.0L287.0 335.6Z" fill="#FFFF00"/>
<path d="M293.7 330.0L300.0 321.7L306.3 330.0L300.0 338.3Z" fill="#FC9006"/>
<path d="M295.8 330.0L300.0 324.5L304.2 330.0L300.0 335.6Z" fill="#FFFF00"/>
<path d="M305.7 330.0L312.0 321.7L318.3 330.0L312.0 338.3Z" fill="#FC9006"/>
<path d="M307.8 330.0L312.0 324.5L316.2 330.0L312.0 335.6Z" fill="#FFFF00"/>
<path d="M307.7 330.0L314.0 321.7L320.3 330.0L314.0 338.3Z" fill="#FC9006"/>
<path d="M309.8 330.0L314.0 324.5L318.2 330.0L314.0 335.6Z" fill="#FFFF00"/>
<path d="M318.7 330.0L325.0 321.7L331.3 330.0L325.0 338.3Z" fill="#FC9006"/>
<path d="M320.8 330.0L325.0 324.5L329.2 330.0L325.0 335.6Z" fill="#FFFF00"/>
<path d="M340.7 330.0L347.0 321.7L353.3 330.0L347.0 338.3Z" fill="#FC9006"/>
<path d="M342.8 330.0L347.0 324.5L351.2 330.0L347.0 335.6Z" fill="#FFFF00"/>
<path d="M426.7 330.0L433.0 321.7L439.3 330.0L433.0 338.3Z" fill="#FC9006"/>
<path d="M428.8 330.0L433.0 324.5L437.2 330.0L433.0 335.6Z" fill="#FFFF00"/>
<path d="M363.2 315.4L369.5 307.1L375.8 315.4L369.5 323.7Z" fill="#FC9006"/>
<path d="M365.3 315.4L369.5 309.8L373.7 315.4L369.5 320.9Z" fill="#FFFF00"/>
<path d="M615.2 300.7L621.5 292.4L627.8 300.7L621.5 309.0Z" fill="#FC9006"/>
<path d="M617.3 300.7L621.5 295.1L625.7 300.7L621.5 306.2Z" fill="#FFFF00"/>
<path d="M621.7 300.7L628.0 292.4L634.3 300.7L628.0 309.0Z" fill="#FC9006"/>
<path d="M623.8 300.7L628.0 295.1L632.2 300.7L628.0 306.2Z" fill="#FFFF00"/>
<path d="M698.4 286.0L704.7 277.7L711.0 286.0L704.7 294.3Z" fill="#FC9006"/>
<path d="M700.5 286.0L704.7 280.4L708.9 286.0L704.7 291.6Z" fill="#FFFF00"/>
<rect x="341.4" y="271.4" width="2" height="308.2" fill="#b0b0b0" stroke="#1a1a1a" stroke-width="0.9"/>
</g>
<rect x="64.8" y="271.4" width="684.3000000000001" height="308.20000000000005" fill="none" stroke="#5a5a5a" stroke-width="1"/>
<line x1="64.8" y1="271.4" x2="64.8" y2="276" stroke="#5a5a5a"/>
<line x1="64.8" y1="579.6" x2="64.8" y2="575" stroke="#5a5a5a"/>
<text x="65.1" y="611.6" text-anchor="middle" class="tk">-20</text>
<line x1="120.2" y1="271.4" x2="120.2" y2="276" stroke="#5a5a5a"/>
<line x1="120.2" y1="579.6" x2="120.2" y2="575" stroke="#5a5a5a"/>
<text x="120.5" y="611.6" text-anchor="middle" class="tk">-16</text>
<line x1="175.6" y1="271.4" x2="175.6" y2="276" stroke="#5a5a5a"/>
<line x1="175.6" y1="579.6" x2="175.6" y2="575" stroke="#5a5a5a"/>
<text x="175.9" y="611.6" text-anchor="middle" class="tk">-12</text>
<line x1="231.0" y1="271.4" x2="231.0" y2="276" stroke="#5a5a5a"/>
<line x1="231.0" y1="579.6" x2="231.0" y2="575" stroke="#5a5a5a"/>
<text x="228.1" y="611.6" text-anchor="middle" class="tk">-8</text>
<line x1="286.4" y1="271.4" x2="286.4" y2="276" stroke="#5a5a5a"/>
<line x1="286.4" y1="579.6" x2="286.4" y2="575" stroke="#5a5a5a"/>
<text x="283.5" y="611.6" text-anchor="middle" class="tk">-4</text>
<line x1="341.8" y1="271.4" x2="341.8" y2="276" stroke="#5a5a5a"/>
<line x1="341.8" y1="579.6" x2="341.8" y2="575" stroke="#5a5a5a"/>
<text x="338.9" y="611.6" text-anchor="middle" class="tk">-0</text>
<line x1="397.2" y1="271.4" x2="397.2" y2="276" stroke="#5a5a5a"/>
<line x1="397.2" y1="579.6" x2="397.2" y2="575" stroke="#5a5a5a"/>
<text x="391.1" y="611.6" text-anchor="middle" class="tk">4</text>
<line x1="452.6" y1="271.4" x2="452.6" y2="276" stroke="#5a5a5a"/>
<line x1="452.6" y1="579.6" x2="452.6" y2="575" stroke="#5a5a5a"/>
<text x="446.5" y="611.6" text-anchor="middle" class="tk">8</text>
<line x1="508.0" y1="271.4" x2="508.0" y2="276" stroke="#5a5a5a"/>
<line x1="508.0" y1="579.6" x2="508.0" y2="575" stroke="#5a5a5a"/>
<text x="505.1" y="611.6" text-anchor="middle" class="tk">12</text>
<line x1="563.4" y1="271.4" x2="563.4" y2="276" stroke="#5a5a5a"/>
<line x1="563.4" y1="579.6" x2="563.4" y2="575" stroke="#5a5a5a"/>
<text x="560.5" y="611.6" text-anchor="middle" class="tk">16</text>
<line x1="618.8" y1="271.4" x2="618.8" y2="276" stroke="#5a5a5a"/>
<line x1="618.8" y1="579.6" x2="618.8" y2="575" stroke="#5a5a5a"/>
<text x="615.9" y="611.6" text-anchor="middle" class="tk">20</text>
<line x1="674.2" y1="271.4" x2="674.2" y2="276" stroke="#5a5a5a"/>
<line x1="674.2" y1="579.6" x2="674.2" y2="575" stroke="#5a5a5a"/>
<text x="671.3" y="611.6" text-anchor="middle" class="tk">24</text>
<line x1="729.6" y1="271.4" x2="729.6" y2="276" stroke="#5a5a5a"/>
<line x1="729.6" y1="579.6" x2="729.6" y2="575" stroke="#5a5a5a"/>
<text x="726.7" y="611.6" text-anchor="middle" class="tk">28</text>
<line x1="64.8" y1="564.9" x2="69.4" y2="564.9" stroke="#5a5a5a"/>
<line x1="749.1" y1="564.9" x2="744.5" y2="564.9" stroke="#5a5a5a"/>
<text x="50.1" y="573.9" text-anchor="end" class="tk">1</text>
<line x1="64.8" y1="535.6" x2="69.4" y2="535.6" stroke="#5a5a5a"/>
<line x1="749.1" y1="535.6" x2="744.5" y2="535.6" stroke="#5a5a5a"/>
<text x="50.1" y="544.6" text-anchor="end" class="tk">3</text>
<line x1="64.8" y1="506.2" x2="69.4" y2="506.2" stroke="#5a5a5a"/>
<line x1="749.1" y1="506.2" x2="744.5" y2="506.2" stroke="#5a5a5a"/>
<text x="50.1" y="515.2" text-anchor="end" class="tk">5</text>
<line x1="64.8" y1="476.8" x2="69.4" y2="476.8" stroke="#5a5a5a"/>
<line x1="749.1" y1="476.8" x2="744.5" y2="476.8" stroke="#5a5a5a"/>
<text x="50.1" y="485.8" text-anchor="end" class="tk">7</text>
<line x1="64.8" y1="447.5" x2="69.4" y2="447.5" stroke="#5a5a5a"/>
<line x1="749.1" y1="447.5" x2="744.5" y2="447.5" stroke="#5a5a5a"/>
<text x="50.1" y="456.5" text-anchor="end" class="tk">9</text>
<line x1="64.8" y1="418.1" x2="69.4" y2="418.1" stroke="#5a5a5a"/>
<line x1="749.1" y1="418.1" x2="744.5" y2="418.1" stroke="#5a5a5a"/>
<text x="56.6" y="427.1" text-anchor="end" class="tk">11</text>
<line x1="64.8" y1="388.8" x2="69.4" y2="388.8" stroke="#5a5a5a"/>
<line x1="749.1" y1="388.8" x2="744.5" y2="388.8" stroke="#5a5a5a"/>
<text x="56.6" y="397.8" text-anchor="end" class="tk">13</text>
<line x1="64.8" y1="359.4" x2="69.4" y2="359.4" stroke="#5a5a5a"/>
<line x1="749.1" y1="359.4" x2="744.5" y2="359.4" stroke="#5a5a5a"/>
<text x="56.6" y="368.4" text-anchor="end" class="tk">15</text>
<line x1="64.8" y1="330.0" x2="69.4" y2="330.0" stroke="#5a5a5a"/>
<line x1="749.1" y1="330.0" x2="744.5" y2="330.0" stroke="#5a5a5a"/>
<text x="56.6" y="339.0" text-anchor="end" class="tk">17</text>
<line x1="64.8" y1="300.7" x2="69.4" y2="300.7" stroke="#5a5a5a"/>
<line x1="749.1" y1="300.7" x2="744.5" y2="300.7" stroke="#5a5a5a"/>
<text x="56.6" y="309.7" text-anchor="end" class="tk">19</text>
<text x="81.2" y="309.9" class="pl">C</text>
<text x="197.2" y="644.4" textLength="406" lengthAdjust="spacingAndGlyphs" class="al">Time from killer whale presence (d)</text>
<text transform="translate(19.2,477.6) rotate(-90)" textLength="100" lengthAdjust="spacingAndGlyphs" class="al">Shark ID</text>
<g clip-path="url(#cD)">
<rect x="564" y="5.8" width="185.2" height="231.9" fill="#fff"/>
<polygon points="590.4,5.8 596.9,10.0 600.2,14.6 602.9,18.3 603.9,22.0 603.4,24.8 605.2,25.2 607.5,24.8 609.9,26.2 612.2,29.4 613.1,32.2 611.7,34.0 613.5,36.8 614.7,40.5 614.5,45.1 613.1,49.7 611.2,54.3 608.9,57.6 609.9,58.0 613.1,58.5 613.5,56.6 614.9,54.8 617.7,54.3 621.4,55.2 624.2,56.6 626.9,58.9 629.7,61.7 632.5,64.5 635.2,66.8 638.0,68.2 641.0,69.6 645.0,70.3 648.9,71.6 652.8,74.2 655.5,76.8 655.5,79.5 654.8,84.7 655.5,89.9 655.5,95.2 654.8,100.4 656.1,105.6 659.4,109.5 661.3,113.5 663.3,118.7 665.0,124.0 665.5,129.0 665.0,134.0 666.5,139.0 668.0,144.0 672.0,149.0 676.0,152.0 682.0,157.0 686.0,160.0 690.0,162.0 694.0,164.5 698.0,166.0 701.0,165.0 704.0,164.0 710.0,163.6 716.0,167.0 720.0,174.0 722.0,181.0 721.0,190.0 719.0,198.0 714.0,201.0 709.0,199.0 706.0,203.0 708.0,210.0 709.5,216.0 711.0,222.0 714.0,232.0 718.0,237.7 760.0,237.7 760.0,0.0 590.0,0.0" fill="#B3B3B3" stroke="#000" stroke-width="0.8" stroke-linejoin="round"/>
<polygon points="655.5,44.8 658.1,45.5 662.0,44.2 665.3,42.2 669.2,43.5 673.8,46.1 677.7,49.4 679.7,52.0 677.7,54.0 674.4,55.9 670.5,56.6 667.9,57.9 667.2,60.5 664.6,61.8 665.9,63.1 669.2,65.7 672.5,67.7 673.1,70.3 673.1,74.2 672.5,78.2 673.1,80.1 676.4,82.1 679.0,84.7 681.0,86.7 684.2,88.6 686.8,91.2 688.2,95.2 689.5,100.4 690.8,104.3 692.1,107.6 694.0,109.5 697.3,110.2 700.6,112.2 701.9,113.5 698.6,114.8 694.7,113.5 692.7,111.5 689.5,109.5 685.5,105.6 681.6,103.7 676.4,101.7 671.2,99.7 669.2,97.8 668.5,95.2 669.2,92.5 667.9,89.9 668.5,87.3 667.9,84.0 667.2,80.1 665.9,78.2 663.3,77.1 658.1,77.5 655.5,78.2 653.5,77.5 654.8,76.8 658.1,75.5 662.0,75.5 661.3,73.6 658.1,71.6 655.5,69.7 657.4,67.0 659.4,65.1 657.4,63.1 658.7,60.5 660.7,59.2 658.1,57.2 657.4,53.3 657.4,49.4 656.1,46.8" fill="#fff"/>
<polyline points="654.8,76.8 658.1,75.5 662.0,75.5 661.3,73.6 658.1,71.6 655.5,69.7 657.4,67.0 659.4,65.1 657.4,63.1 658.7,60.5 660.7,59.2 658.1,57.2 657.4,53.3 657.4,49.4 656.1,46.8 655.5,44.8 658.1,45.5 662.0,44.2 665.3,42.2 669.2,43.5 673.8,46.1 677.7,49.4 679.7,52.0 677.7,54.0 674.4,55.9 670.5,56.6 667.9,57.9 667.2,60.5 664.6,61.8 665.9,63.1 669.2,65.7 672.5,67.7 673.1,70.3 673.1,74.2 672.5,78.2 673.1,80.1 676.4,82.1 679.0,84.7 681.0,86.7 684.2,88.6 686.8,91.2 688.2,95.2 689.5,100.4 690.8,104.3 692.1,107.6 694.0,109.5 697.3,110.2 700.6,112.2 701.9,113.5 698.6,114.8 694.7,113.5 692.7,111.5 689.5,109.5 685.5,105.6 681.6,103.7 676.4,101.7 671.2,99.7 669.2,97.8 668.5,95.2 669.2,92.5 667.9,89.9 668.5,87.3 667.9,84.0 667.2,80.1 665.9,78.2 663.3,77.1 658.1,77.5" fill="none" stroke="#000" stroke-width="0.8" stroke-linejoin="round"/>
<polygon points="605.2,25.6 607.5,25.2 609.9,26.6 612,29.6 612.6,32 611.3,33.4 609,30.5 606.5,27.5" fill="#fff" stroke="#000" stroke-width="0.6"/>
<ellipse cx="703" cy="47.9" rx="1.6" ry="0.9" fill="#fff" stroke="#000" stroke-width="0.6"/>
<ellipse cx="719.5" cy="51.6" rx="2" ry="1" fill="#fff" stroke="#000" stroke-width="0.6"/>
<ellipse cx="717" cy="52" rx="1.2" ry="0.8" fill="#fff" stroke="#000" stroke-width="0.6"/>
</g>
<line x1="564" y1="5.8" x2="749.2" y2="5.8" stroke="#505050" stroke-width="1.1"/>
<line x1="749.2" y1="5.3" x2="749.2" y2="238.2" stroke="#2a2a2a" stroke-width="1"/>
<line x1="564" y1="5.3" x2="564" y2="238.2" stroke="#7a7a7a" stroke-width="1"/>
<line x1="564" y1="237.7" x2="718" y2="237.7" stroke="#8a8a8a" stroke-width="1"/>
<line x1="718" y1="237.7" x2="749.2" y2="237.7" stroke="#3a3a3a" stroke-width="1"/>
<path d="M598.0 35.4L604.3 27.1L610.6 35.4L604.3 43.7Z" fill="#70AB2E"/>
<path d="M594.3 59.4L600.6 51.1L606.9 59.4L600.6 67.7Z" fill="#7E2F8E"/>
<path d="M594.7 89.1L601.0 80.8L607.3 89.1L601.0 97.4Z" fill="#FC9006"/>
<path d="M612.4 88.2L618.7 79.9L625.0 88.2L618.7 96.5Z" fill="#FC9006"/>
<path d="M614.5 88.2L618.7 82.6L622.9 88.2L618.7 93.8Z" fill="#FFFF00"/>
<rect x="607" y="85.3" width="1" height="1" fill="#222"/><rect x="609.3" y="88.6" width="1.4" height="1.2" fill="#222"/>
<path d="M657.3 151.4L663.6 143.1L669.9 151.4L663.6 159.7Z" fill="#0072BD"/>
<text x="577.6" y="223.4" class="pl">D</text>
</svg>
</body></html>
